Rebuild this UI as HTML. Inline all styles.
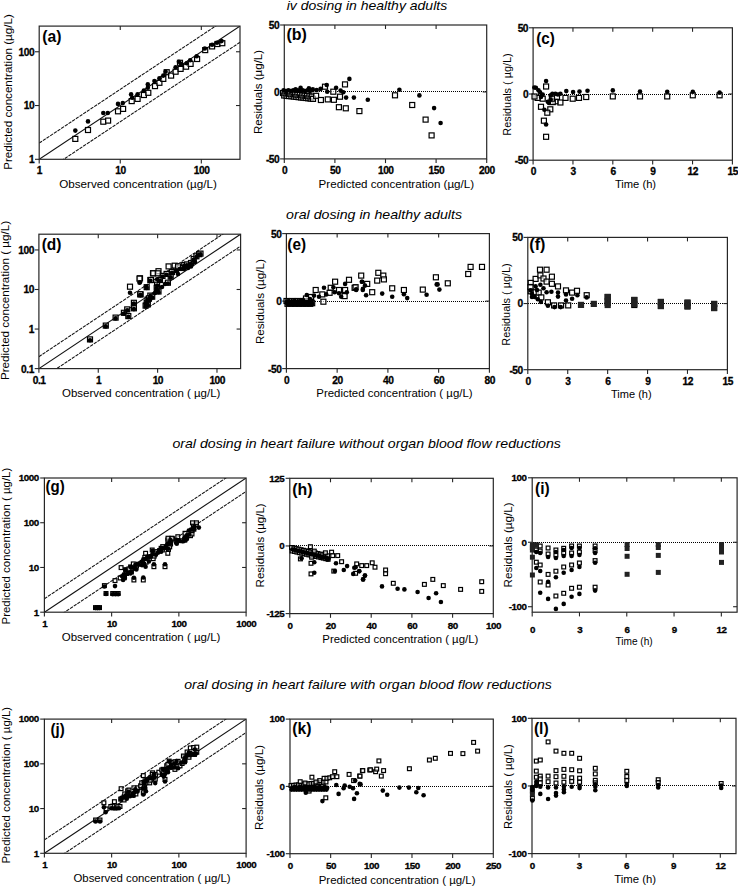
<!DOCTYPE html>
<html><head><meta charset="utf-8"><style>html,body{margin:0;padding:0;background:#fff;width:738px;height:887px;overflow:hidden}svg{display:block}</style></head>
<body><svg width="738" height="887" viewBox="0 0 738 887" font-family='"Liberation Sans", sans-serif'>
<rect width="738" height="887" fill="#fff"/>
<clipPath id="cpa"><rect x="39.2" y="26.1" width="200.8" height="133.20000000000002"/></clipPath>
<g clip-path="url(#cpa)" fill="none" stroke="#111">
<line x1="39.20" y1="159.30" x2="240.00" y2="26.10" stroke-width="1.1"/>
<line x1="39.20" y1="143.11" x2="240.00" y2="9.91" stroke-width="1.05" stroke-dasharray="3.4 1.0"/>
<line x1="39.20" y1="175.49" x2="240.00" y2="42.29" stroke-width="1.05" stroke-dasharray="3.4 1.0"/>
</g>
<rect x="39.2" y="26.1" width="200.80" height="133.20" fill="none" stroke="#262626" stroke-width="1.2"/>
<line x1="39.20" y1="159.3" x2="39.20" y2="163.50" stroke="#262626" stroke-width="1.1"/>
<text x="39.45" y="174.30" font-size="10.2" font-weight="bold" text-anchor="middle" fill="#000" letter-spacing="-0.45" stroke="#000" stroke-width="0.3">1</text>
<line x1="120.26" y1="159.3" x2="120.26" y2="163.50" stroke="#262626" stroke-width="1.1"/>
<line x1="120.26" y1="26.1" x2="120.26" y2="30.10" stroke="#262626" stroke-width="1.1"/>
<text x="120.51" y="174.30" font-size="10.2" font-weight="bold" text-anchor="middle" fill="#000" letter-spacing="-0.45" stroke="#000" stroke-width="0.3">10</text>
<line x1="201.32" y1="159.3" x2="201.32" y2="163.50" stroke="#262626" stroke-width="1.1"/>
<line x1="201.32" y1="26.1" x2="201.32" y2="30.10" stroke="#262626" stroke-width="1.1"/>
<text x="201.57" y="174.30" font-size="10.2" font-weight="bold" text-anchor="middle" fill="#000" letter-spacing="-0.45" stroke="#000" stroke-width="0.3">100</text>
<line x1="35.00" y1="159.30" x2="39.2" y2="159.30" stroke="#262626" stroke-width="1.1"/>
<text x="34.20" y="163.20" font-size="10.2" font-weight="bold" text-anchor="end" fill="#000" letter-spacing="-0.45" stroke="#000" stroke-width="0.3">1</text>
<line x1="35.00" y1="105.53" x2="39.2" y2="105.53" stroke="#262626" stroke-width="1.1"/>
<line x1="236.00" y1="105.53" x2="240.0" y2="105.53" stroke="#262626" stroke-width="1.1"/>
<text x="34.20" y="109.43" font-size="10.2" font-weight="bold" text-anchor="end" fill="#000" letter-spacing="-0.45" stroke="#000" stroke-width="0.3">10</text>
<line x1="35.00" y1="51.76" x2="39.2" y2="51.76" stroke="#262626" stroke-width="1.1"/>
<line x1="236.00" y1="51.76" x2="240.0" y2="51.76" stroke="#262626" stroke-width="1.1"/>
<text x="34.20" y="55.66" font-size="10.2" font-weight="bold" text-anchor="end" fill="#000" letter-spacing="-0.45" stroke="#000" stroke-width="0.3">100</text>
<line x1="285" y1="91.50" x2="486.7" y2="91.50" stroke="#000" stroke-width="1" stroke-dasharray="1 1"/>
<rect x="284.3" y="25.0" width="202.40" height="133.90" fill="none" stroke="#262626" stroke-width="1.2"/>
<line x1="284.30" y1="158.9" x2="284.30" y2="163.10" stroke="#262626" stroke-width="1.1"/>
<text x="284.55" y="173.90" font-size="10.2" font-weight="bold" text-anchor="middle" fill="#000" letter-spacing="-0.45" stroke="#000" stroke-width="0.3">0</text>
<line x1="334.90" y1="158.9" x2="334.90" y2="163.10" stroke="#262626" stroke-width="1.1"/>
<line x1="334.90" y1="25.0" x2="334.90" y2="29.00" stroke="#262626" stroke-width="1.1"/>
<text x="335.15" y="173.90" font-size="10.2" font-weight="bold" text-anchor="middle" fill="#000" letter-spacing="-0.45" stroke="#000" stroke-width="0.3">50</text>
<line x1="385.50" y1="158.9" x2="385.50" y2="163.10" stroke="#262626" stroke-width="1.1"/>
<line x1="385.50" y1="25.0" x2="385.50" y2="29.00" stroke="#262626" stroke-width="1.1"/>
<text x="385.75" y="173.90" font-size="10.2" font-weight="bold" text-anchor="middle" fill="#000" letter-spacing="-0.45" stroke="#000" stroke-width="0.3">100</text>
<line x1="436.10" y1="158.9" x2="436.10" y2="163.10" stroke="#262626" stroke-width="1.1"/>
<line x1="436.10" y1="25.0" x2="436.10" y2="29.00" stroke="#262626" stroke-width="1.1"/>
<text x="436.35" y="173.90" font-size="10.2" font-weight="bold" text-anchor="middle" fill="#000" letter-spacing="-0.45" stroke="#000" stroke-width="0.3">150</text>
<line x1="486.70" y1="158.9" x2="486.70" y2="163.10" stroke="#262626" stroke-width="1.1"/>
<text x="486.95" y="173.90" font-size="10.2" font-weight="bold" text-anchor="middle" fill="#000" letter-spacing="-0.45" stroke="#000" stroke-width="0.3">200</text>
<line x1="280.10" y1="158.90" x2="284.3" y2="158.90" stroke="#262626" stroke-width="1.1"/>
<text x="279.30" y="162.80" font-size="10.2" font-weight="bold" text-anchor="end" fill="#000" letter-spacing="-0.45" stroke="#000" stroke-width="0.3">-50</text>
<line x1="280.10" y1="91.95" x2="284.3" y2="91.95" stroke="#262626" stroke-width="1.1"/>
<line x1="482.70" y1="91.95" x2="486.7" y2="91.95" stroke="#262626" stroke-width="1.1"/>
<text x="279.30" y="95.85" font-size="10.2" font-weight="bold" text-anchor="end" fill="#000" letter-spacing="-0.45" stroke="#000" stroke-width="0.3">0</text>
<line x1="280.10" y1="25.00" x2="284.3" y2="25.00" stroke="#262626" stroke-width="1.1"/>
<text x="279.30" y="28.90" font-size="10.2" font-weight="bold" text-anchor="end" fill="#000" letter-spacing="-0.45" stroke="#000" stroke-width="0.3">50</text>
<line x1="534" y1="94.50" x2="732.4" y2="94.50" stroke="#000" stroke-width="1" stroke-dasharray="1 1"/>
<rect x="533.1" y="27.8" width="199.30" height="132.40" fill="none" stroke="#262626" stroke-width="1.2"/>
<line x1="533.10" y1="160.2" x2="533.10" y2="164.40" stroke="#262626" stroke-width="1.1"/>
<text x="533.35" y="175.20" font-size="10.2" font-weight="bold" text-anchor="middle" fill="#000" letter-spacing="-0.45" stroke="#000" stroke-width="0.3">0</text>
<line x1="572.96" y1="160.2" x2="572.96" y2="164.40" stroke="#262626" stroke-width="1.1"/>
<line x1="572.96" y1="27.8" x2="572.96" y2="31.80" stroke="#262626" stroke-width="1.1"/>
<text x="573.21" y="175.20" font-size="10.2" font-weight="bold" text-anchor="middle" fill="#000" letter-spacing="-0.45" stroke="#000" stroke-width="0.3">3</text>
<line x1="612.82" y1="160.2" x2="612.82" y2="164.40" stroke="#262626" stroke-width="1.1"/>
<line x1="612.82" y1="27.8" x2="612.82" y2="31.80" stroke="#262626" stroke-width="1.1"/>
<text x="613.07" y="175.20" font-size="10.2" font-weight="bold" text-anchor="middle" fill="#000" letter-spacing="-0.45" stroke="#000" stroke-width="0.3">6</text>
<line x1="652.68" y1="160.2" x2="652.68" y2="164.40" stroke="#262626" stroke-width="1.1"/>
<line x1="652.68" y1="27.8" x2="652.68" y2="31.80" stroke="#262626" stroke-width="1.1"/>
<text x="652.93" y="175.20" font-size="10.2" font-weight="bold" text-anchor="middle" fill="#000" letter-spacing="-0.45" stroke="#000" stroke-width="0.3">9</text>
<line x1="692.54" y1="160.2" x2="692.54" y2="164.40" stroke="#262626" stroke-width="1.1"/>
<line x1="692.54" y1="27.8" x2="692.54" y2="31.80" stroke="#262626" stroke-width="1.1"/>
<text x="692.79" y="175.20" font-size="10.2" font-weight="bold" text-anchor="middle" fill="#000" letter-spacing="-0.45" stroke="#000" stroke-width="0.3">12</text>
<line x1="732.40" y1="160.2" x2="732.40" y2="164.40" stroke="#262626" stroke-width="1.1"/>
<text x="732.65" y="175.20" font-size="10.2" font-weight="bold" text-anchor="middle" fill="#000" letter-spacing="-0.45" stroke="#000" stroke-width="0.3">15</text>
<line x1="528.90" y1="160.20" x2="533.1" y2="160.20" stroke="#262626" stroke-width="1.1"/>
<text x="528.10" y="164.10" font-size="10.2" font-weight="bold" text-anchor="end" fill="#000" letter-spacing="-0.45" stroke="#000" stroke-width="0.3">-50</text>
<line x1="528.90" y1="94.00" x2="533.1" y2="94.00" stroke="#262626" stroke-width="1.1"/>
<line x1="728.40" y1="94.00" x2="732.4" y2="94.00" stroke="#262626" stroke-width="1.1"/>
<text x="528.10" y="97.90" font-size="10.2" font-weight="bold" text-anchor="end" fill="#000" letter-spacing="-0.45" stroke="#000" stroke-width="0.3">0</text>
<line x1="528.90" y1="27.80" x2="533.1" y2="27.80" stroke="#262626" stroke-width="1.1"/>
<text x="528.10" y="31.70" font-size="10.2" font-weight="bold" text-anchor="end" fill="#000" letter-spacing="-0.45" stroke="#000" stroke-width="0.3">50</text>
<clipPath id="cpd"><rect x="38.9" y="234.2" width="201.7" height="134.40000000000003"/></clipPath>
<g clip-path="url(#cpd)" fill="none" stroke="#111">
<line x1="38.90" y1="368.60" x2="240.60" y2="234.20" stroke-width="1.1"/>
<line x1="38.90" y1="356.69" x2="240.60" y2="222.29" stroke-width="1.05" stroke-dasharray="3.4 1.0"/>
<line x1="38.90" y1="380.51" x2="240.60" y2="246.11" stroke-width="1.05" stroke-dasharray="3.4 1.0"/>
</g>
<rect x="38.9" y="234.2" width="201.70" height="134.40" fill="none" stroke="#262626" stroke-width="1.2"/>
<line x1="38.90" y1="368.6" x2="38.90" y2="372.80" stroke="#262626" stroke-width="1.1"/>
<text x="39.15" y="383.60" font-size="10.2" font-weight="bold" text-anchor="middle" fill="#000" letter-spacing="-0.45" stroke="#000" stroke-width="0.3">0.1</text>
<line x1="98.26" y1="368.6" x2="98.26" y2="372.80" stroke="#262626" stroke-width="1.1"/>
<line x1="98.26" y1="234.2" x2="98.26" y2="238.20" stroke="#262626" stroke-width="1.1"/>
<text x="98.51" y="383.60" font-size="10.2" font-weight="bold" text-anchor="middle" fill="#000" letter-spacing="-0.45" stroke="#000" stroke-width="0.3">1</text>
<line x1="157.62" y1="368.6" x2="157.62" y2="372.80" stroke="#262626" stroke-width="1.1"/>
<line x1="157.62" y1="234.2" x2="157.62" y2="238.20" stroke="#262626" stroke-width="1.1"/>
<text x="157.87" y="383.60" font-size="10.2" font-weight="bold" text-anchor="middle" fill="#000" letter-spacing="-0.45" stroke="#000" stroke-width="0.3">10</text>
<line x1="216.98" y1="368.6" x2="216.98" y2="372.80" stroke="#262626" stroke-width="1.1"/>
<line x1="216.98" y1="234.2" x2="216.98" y2="238.20" stroke="#262626" stroke-width="1.1"/>
<text x="217.23" y="383.60" font-size="10.2" font-weight="bold" text-anchor="middle" fill="#000" letter-spacing="-0.45" stroke="#000" stroke-width="0.3">100</text>
<line x1="34.70" y1="368.60" x2="38.9" y2="368.60" stroke="#262626" stroke-width="1.1"/>
<text x="33.90" y="372.50" font-size="10.2" font-weight="bold" text-anchor="end" fill="#000" letter-spacing="-0.45" stroke="#000" stroke-width="0.3">0.1</text>
<line x1="34.70" y1="329.05" x2="38.9" y2="329.05" stroke="#262626" stroke-width="1.1"/>
<line x1="236.60" y1="329.05" x2="240.6" y2="329.05" stroke="#262626" stroke-width="1.1"/>
<text x="33.90" y="332.95" font-size="10.2" font-weight="bold" text-anchor="end" fill="#000" letter-spacing="-0.45" stroke="#000" stroke-width="0.3">1</text>
<line x1="34.70" y1="289.49" x2="38.9" y2="289.49" stroke="#262626" stroke-width="1.1"/>
<line x1="236.60" y1="289.49" x2="240.6" y2="289.49" stroke="#262626" stroke-width="1.1"/>
<text x="33.90" y="293.39" font-size="10.2" font-weight="bold" text-anchor="end" fill="#000" letter-spacing="-0.45" stroke="#000" stroke-width="0.3">10</text>
<line x1="34.70" y1="249.94" x2="38.9" y2="249.94" stroke="#262626" stroke-width="1.1"/>
<line x1="236.60" y1="249.94" x2="240.6" y2="249.94" stroke="#262626" stroke-width="1.1"/>
<text x="33.90" y="253.84" font-size="10.2" font-weight="bold" text-anchor="end" fill="#000" letter-spacing="-0.45" stroke="#000" stroke-width="0.3">100</text>
<line x1="287" y1="301.50" x2="489.4" y2="301.50" stroke="#000" stroke-width="1" stroke-dasharray="1 1"/>
<rect x="286.4" y="233.6" width="203.00" height="135.00" fill="none" stroke="#262626" stroke-width="1.2"/>
<line x1="286.40" y1="368.6" x2="286.40" y2="372.80" stroke="#262626" stroke-width="1.1"/>
<text x="286.65" y="383.60" font-size="10.2" font-weight="bold" text-anchor="middle" fill="#000" letter-spacing="-0.45" stroke="#000" stroke-width="0.3">0</text>
<line x1="337.15" y1="368.6" x2="337.15" y2="372.80" stroke="#262626" stroke-width="1.1"/>
<line x1="337.15" y1="233.6" x2="337.15" y2="237.60" stroke="#262626" stroke-width="1.1"/>
<text x="337.40" y="383.60" font-size="10.2" font-weight="bold" text-anchor="middle" fill="#000" letter-spacing="-0.45" stroke="#000" stroke-width="0.3">20</text>
<line x1="387.90" y1="368.6" x2="387.90" y2="372.80" stroke="#262626" stroke-width="1.1"/>
<line x1="387.90" y1="233.6" x2="387.90" y2="237.60" stroke="#262626" stroke-width="1.1"/>
<text x="388.15" y="383.60" font-size="10.2" font-weight="bold" text-anchor="middle" fill="#000" letter-spacing="-0.45" stroke="#000" stroke-width="0.3">40</text>
<line x1="438.65" y1="368.6" x2="438.65" y2="372.80" stroke="#262626" stroke-width="1.1"/>
<line x1="438.65" y1="233.6" x2="438.65" y2="237.60" stroke="#262626" stroke-width="1.1"/>
<text x="438.90" y="383.60" font-size="10.2" font-weight="bold" text-anchor="middle" fill="#000" letter-spacing="-0.45" stroke="#000" stroke-width="0.3">60</text>
<line x1="489.40" y1="368.6" x2="489.40" y2="372.80" stroke="#262626" stroke-width="1.1"/>
<text x="489.65" y="383.60" font-size="10.2" font-weight="bold" text-anchor="middle" fill="#000" letter-spacing="-0.45" stroke="#000" stroke-width="0.3">80</text>
<line x1="282.20" y1="368.60" x2="286.4" y2="368.60" stroke="#262626" stroke-width="1.1"/>
<text x="281.40" y="372.50" font-size="10.2" font-weight="bold" text-anchor="end" fill="#000" letter-spacing="-0.45" stroke="#000" stroke-width="0.3">-50</text>
<line x1="282.20" y1="301.10" x2="286.4" y2="301.10" stroke="#262626" stroke-width="1.1"/>
<line x1="485.40" y1="301.10" x2="489.4" y2="301.10" stroke="#262626" stroke-width="1.1"/>
<text x="281.40" y="305.00" font-size="10.2" font-weight="bold" text-anchor="end" fill="#000" letter-spacing="-0.45" stroke="#000" stroke-width="0.3">0</text>
<line x1="282.20" y1="233.60" x2="286.4" y2="233.60" stroke="#262626" stroke-width="1.1"/>
<text x="281.40" y="237.50" font-size="10.2" font-weight="bold" text-anchor="end" fill="#000" letter-spacing="-0.45" stroke="#000" stroke-width="0.3">50</text>
<line x1="528" y1="303.50" x2="727.4" y2="303.50" stroke="#000" stroke-width="1" stroke-dasharray="1 1"/>
<rect x="527.8" y="237.4" width="199.60" height="132.30" fill="none" stroke="#262626" stroke-width="1.2"/>
<line x1="527.80" y1="369.7" x2="527.80" y2="373.90" stroke="#262626" stroke-width="1.1"/>
<text x="528.05" y="384.70" font-size="10.2" font-weight="bold" text-anchor="middle" fill="#000" letter-spacing="-0.45" stroke="#000" stroke-width="0.3">0</text>
<line x1="567.72" y1="369.7" x2="567.72" y2="373.90" stroke="#262626" stroke-width="1.1"/>
<line x1="567.72" y1="237.4" x2="567.72" y2="241.40" stroke="#262626" stroke-width="1.1"/>
<text x="567.97" y="384.70" font-size="10.2" font-weight="bold" text-anchor="middle" fill="#000" letter-spacing="-0.45" stroke="#000" stroke-width="0.3">3</text>
<line x1="607.64" y1="369.7" x2="607.64" y2="373.90" stroke="#262626" stroke-width="1.1"/>
<line x1="607.64" y1="237.4" x2="607.64" y2="241.40" stroke="#262626" stroke-width="1.1"/>
<text x="607.89" y="384.70" font-size="10.2" font-weight="bold" text-anchor="middle" fill="#000" letter-spacing="-0.45" stroke="#000" stroke-width="0.3">6</text>
<line x1="647.56" y1="369.7" x2="647.56" y2="373.90" stroke="#262626" stroke-width="1.1"/>
<line x1="647.56" y1="237.4" x2="647.56" y2="241.40" stroke="#262626" stroke-width="1.1"/>
<text x="647.81" y="384.70" font-size="10.2" font-weight="bold" text-anchor="middle" fill="#000" letter-spacing="-0.45" stroke="#000" stroke-width="0.3">9</text>
<line x1="687.48" y1="369.7" x2="687.48" y2="373.90" stroke="#262626" stroke-width="1.1"/>
<line x1="687.48" y1="237.4" x2="687.48" y2="241.40" stroke="#262626" stroke-width="1.1"/>
<text x="687.73" y="384.70" font-size="10.2" font-weight="bold" text-anchor="middle" fill="#000" letter-spacing="-0.45" stroke="#000" stroke-width="0.3">12</text>
<line x1="727.40" y1="369.7" x2="727.40" y2="373.90" stroke="#262626" stroke-width="1.1"/>
<text x="727.65" y="384.70" font-size="10.2" font-weight="bold" text-anchor="middle" fill="#000" letter-spacing="-0.45" stroke="#000" stroke-width="0.3">15</text>
<line x1="523.60" y1="369.70" x2="527.8" y2="369.70" stroke="#262626" stroke-width="1.1"/>
<text x="522.80" y="373.60" font-size="10.2" font-weight="bold" text-anchor="end" fill="#000" letter-spacing="-0.45" stroke="#000" stroke-width="0.3">-50</text>
<line x1="523.60" y1="303.55" x2="527.8" y2="303.55" stroke="#262626" stroke-width="1.1"/>
<line x1="723.40" y1="303.55" x2="727.4" y2="303.55" stroke="#262626" stroke-width="1.1"/>
<text x="522.80" y="307.45" font-size="10.2" font-weight="bold" text-anchor="end" fill="#000" letter-spacing="-0.45" stroke="#000" stroke-width="0.3">0</text>
<line x1="523.60" y1="237.40" x2="527.8" y2="237.40" stroke="#262626" stroke-width="1.1"/>
<text x="522.80" y="241.30" font-size="10.2" font-weight="bold" text-anchor="end" fill="#000" letter-spacing="-0.45" stroke="#000" stroke-width="0.3">50</text>
<clipPath id="cpg"><rect x="44.4" y="478.0" width="201.7" height="134.20000000000005"/></clipPath>
<g clip-path="url(#cpg)" fill="none" stroke="#111">
<line x1="44.40" y1="612.20" x2="246.10" y2="478.00" stroke-width="1.1"/>
<line x1="44.40" y1="598.73" x2="246.10" y2="464.53" stroke-width="1.05" stroke-dasharray="3.4 1.0"/>
<line x1="44.40" y1="625.67" x2="246.10" y2="491.47" stroke-width="1.05" stroke-dasharray="3.4 1.0"/>
</g>
<rect x="44.4" y="478.0" width="201.70" height="134.20" fill="none" stroke="#262626" stroke-width="1.2"/>
<line x1="44.40" y1="612.2" x2="44.40" y2="616.40" stroke="#262626" stroke-width="1.1"/>
<text x="44.65" y="627.20" font-size="9.8" font-weight="bold" text-anchor="middle" fill="#000" letter-spacing="-0.45" stroke="#000" stroke-width="0.3">1</text>
<line x1="111.63" y1="612.2" x2="111.63" y2="616.40" stroke="#262626" stroke-width="1.1"/>
<line x1="111.63" y1="478.0" x2="111.63" y2="482.00" stroke="#262626" stroke-width="1.1"/>
<text x="111.88" y="627.20" font-size="9.8" font-weight="bold" text-anchor="middle" fill="#000" letter-spacing="-0.45" stroke="#000" stroke-width="0.3">10</text>
<line x1="178.87" y1="612.2" x2="178.87" y2="616.40" stroke="#262626" stroke-width="1.1"/>
<line x1="178.87" y1="478.0" x2="178.87" y2="482.00" stroke="#262626" stroke-width="1.1"/>
<text x="179.12" y="627.20" font-size="9.8" font-weight="bold" text-anchor="middle" fill="#000" letter-spacing="-0.45" stroke="#000" stroke-width="0.3">100</text>
<line x1="246.10" y1="612.2" x2="246.10" y2="616.40" stroke="#262626" stroke-width="1.1"/>
<text x="246.35" y="627.20" font-size="9.8" font-weight="bold" text-anchor="middle" fill="#000" letter-spacing="-0.45" stroke="#000" stroke-width="0.3">1000</text>
<line x1="40.20" y1="612.20" x2="44.4" y2="612.20" stroke="#262626" stroke-width="1.1"/>
<text x="38.80" y="615.50" font-size="9.8" font-weight="bold" text-anchor="end" fill="#000" letter-spacing="-0.45" stroke="#000" stroke-width="0.3">1</text>
<line x1="40.20" y1="567.47" x2="44.4" y2="567.47" stroke="#262626" stroke-width="1.1"/>
<line x1="242.10" y1="567.47" x2="246.1" y2="567.47" stroke="#262626" stroke-width="1.1"/>
<text x="38.80" y="570.77" font-size="9.8" font-weight="bold" text-anchor="end" fill="#000" letter-spacing="-0.45" stroke="#000" stroke-width="0.3">10</text>
<line x1="40.20" y1="522.73" x2="44.4" y2="522.73" stroke="#262626" stroke-width="1.1"/>
<line x1="242.10" y1="522.73" x2="246.1" y2="522.73" stroke="#262626" stroke-width="1.1"/>
<text x="38.80" y="526.03" font-size="9.8" font-weight="bold" text-anchor="end" fill="#000" letter-spacing="-0.45" stroke="#000" stroke-width="0.3">100</text>
<line x1="40.20" y1="478.00" x2="44.4" y2="478.00" stroke="#262626" stroke-width="1.1"/>
<text x="38.80" y="481.30" font-size="9.8" font-weight="bold" text-anchor="end" fill="#000" letter-spacing="-0.45" stroke="#000" stroke-width="0.3">1000</text>
<line x1="290" y1="545.50" x2="493.3" y2="545.50" stroke="#000" stroke-width="1" stroke-dasharray="1 1"/>
<rect x="289.8" y="478.3" width="203.50" height="135.30" fill="none" stroke="#262626" stroke-width="1.2"/>
<line x1="289.80" y1="613.6" x2="289.80" y2="617.80" stroke="#262626" stroke-width="1.1"/>
<text x="290.05" y="628.60" font-size="9.8" font-weight="bold" text-anchor="middle" fill="#000" letter-spacing="-0.45" stroke="#000" stroke-width="0.3">0</text>
<line x1="330.50" y1="613.6" x2="330.50" y2="617.80" stroke="#262626" stroke-width="1.1"/>
<line x1="330.50" y1="478.3" x2="330.50" y2="482.30" stroke="#262626" stroke-width="1.1"/>
<text x="330.75" y="628.60" font-size="9.8" font-weight="bold" text-anchor="middle" fill="#000" letter-spacing="-0.45" stroke="#000" stroke-width="0.3">20</text>
<line x1="371.20" y1="613.6" x2="371.20" y2="617.80" stroke="#262626" stroke-width="1.1"/>
<line x1="371.20" y1="478.3" x2="371.20" y2="482.30" stroke="#262626" stroke-width="1.1"/>
<text x="371.45" y="628.60" font-size="9.8" font-weight="bold" text-anchor="middle" fill="#000" letter-spacing="-0.45" stroke="#000" stroke-width="0.3">40</text>
<line x1="411.90" y1="613.6" x2="411.90" y2="617.80" stroke="#262626" stroke-width="1.1"/>
<line x1="411.90" y1="478.3" x2="411.90" y2="482.30" stroke="#262626" stroke-width="1.1"/>
<text x="412.15" y="628.60" font-size="9.8" font-weight="bold" text-anchor="middle" fill="#000" letter-spacing="-0.45" stroke="#000" stroke-width="0.3">60</text>
<line x1="452.60" y1="613.6" x2="452.60" y2="617.80" stroke="#262626" stroke-width="1.1"/>
<line x1="452.60" y1="478.3" x2="452.60" y2="482.30" stroke="#262626" stroke-width="1.1"/>
<text x="452.85" y="628.60" font-size="9.8" font-weight="bold" text-anchor="middle" fill="#000" letter-spacing="-0.45" stroke="#000" stroke-width="0.3">80</text>
<line x1="493.30" y1="613.6" x2="493.30" y2="617.80" stroke="#262626" stroke-width="1.1"/>
<text x="493.55" y="628.60" font-size="9.8" font-weight="bold" text-anchor="middle" fill="#000" letter-spacing="-0.45" stroke="#000" stroke-width="0.3">100</text>
<line x1="285.60" y1="613.60" x2="289.8" y2="613.60" stroke="#262626" stroke-width="1.1"/>
<text x="284.20" y="616.90" font-size="9.8" font-weight="bold" text-anchor="end" fill="#000" letter-spacing="-0.45" stroke="#000" stroke-width="0.3">-125</text>
<line x1="285.60" y1="545.95" x2="289.8" y2="545.95" stroke="#262626" stroke-width="1.1"/>
<line x1="489.30" y1="545.95" x2="493.3" y2="545.95" stroke="#262626" stroke-width="1.1"/>
<text x="284.20" y="549.25" font-size="9.8" font-weight="bold" text-anchor="end" fill="#000" letter-spacing="-0.45" stroke="#000" stroke-width="0.3">0</text>
<line x1="285.60" y1="478.30" x2="289.8" y2="478.30" stroke="#262626" stroke-width="1.1"/>
<text x="284.20" y="481.60" font-size="9.8" font-weight="bold" text-anchor="end" fill="#000" letter-spacing="-0.45" stroke="#000" stroke-width="0.3">125</text>
<line x1="533" y1="542.50" x2="737.1" y2="542.50" stroke="#000" stroke-width="1" stroke-dasharray="1 1"/>
<rect x="532.2" y="477.8" width="204.90" height="134.40" fill="none" stroke="#262626" stroke-width="1.2"/>
<line x1="532.20" y1="612.2" x2="532.20" y2="616.40" stroke="#262626" stroke-width="1.1"/>
<text x="532.45" y="633.30" font-size="9.8" font-weight="bold" text-anchor="middle" fill="#000" letter-spacing="-0.45" stroke="#000" stroke-width="0.3">0</text>
<line x1="579.48" y1="612.2" x2="579.48" y2="616.40" stroke="#262626" stroke-width="1.1"/>
<line x1="579.48" y1="477.8" x2="579.48" y2="481.80" stroke="#262626" stroke-width="1.1"/>
<text x="579.73" y="633.30" font-size="9.8" font-weight="bold" text-anchor="middle" fill="#000" letter-spacing="-0.45" stroke="#000" stroke-width="0.3">3</text>
<line x1="626.77" y1="612.2" x2="626.77" y2="616.40" stroke="#262626" stroke-width="1.1"/>
<line x1="626.77" y1="477.8" x2="626.77" y2="481.80" stroke="#262626" stroke-width="1.1"/>
<text x="627.02" y="633.30" font-size="9.8" font-weight="bold" text-anchor="middle" fill="#000" letter-spacing="-0.45" stroke="#000" stroke-width="0.3">6</text>
<line x1="674.05" y1="612.2" x2="674.05" y2="616.40" stroke="#262626" stroke-width="1.1"/>
<line x1="674.05" y1="477.8" x2="674.05" y2="481.80" stroke="#262626" stroke-width="1.1"/>
<text x="674.30" y="633.30" font-size="9.8" font-weight="bold" text-anchor="middle" fill="#000" letter-spacing="-0.45" stroke="#000" stroke-width="0.3">9</text>
<line x1="721.34" y1="612.2" x2="721.34" y2="616.40" stroke="#262626" stroke-width="1.1"/>
<line x1="721.34" y1="477.8" x2="721.34" y2="481.80" stroke="#262626" stroke-width="1.1"/>
<text x="721.59" y="633.30" font-size="9.8" font-weight="bold" text-anchor="middle" fill="#000" letter-spacing="-0.45" stroke="#000" stroke-width="0.3">12</text>
<line x1="528.00" y1="606.72" x2="532.2" y2="606.72" stroke="#262626" stroke-width="1.1"/>
<line x1="733.10" y1="606.72" x2="737.1" y2="606.72" stroke="#262626" stroke-width="1.1"/>
<text x="526.60" y="610.02" font-size="9.8" font-weight="bold" text-anchor="end" fill="#000" letter-spacing="-0.45" stroke="#000" stroke-width="0.3">-100</text>
<line x1="528.00" y1="542.26" x2="532.2" y2="542.26" stroke="#262626" stroke-width="1.1"/>
<line x1="733.10" y1="542.26" x2="737.1" y2="542.26" stroke="#262626" stroke-width="1.1"/>
<text x="526.60" y="545.56" font-size="9.8" font-weight="bold" text-anchor="end" fill="#000" letter-spacing="-0.45" stroke="#000" stroke-width="0.3">0</text>
<line x1="528.00" y1="477.80" x2="532.2" y2="477.80" stroke="#262626" stroke-width="1.1"/>
<text x="526.60" y="481.10" font-size="9.8" font-weight="bold" text-anchor="end" fill="#000" letter-spacing="-0.45" stroke="#000" stroke-width="0.3">100</text>
<clipPath id="cpj"><rect x="44.4" y="719.1" width="201.7" height="134.19999999999993"/></clipPath>
<g clip-path="url(#cpj)" fill="none" stroke="#111">
<line x1="44.40" y1="853.30" x2="246.10" y2="719.10" stroke-width="1.1"/>
<line x1="44.40" y1="839.83" x2="246.10" y2="705.63" stroke-width="1.05" stroke-dasharray="3.4 1.0"/>
<line x1="44.40" y1="866.77" x2="246.10" y2="732.57" stroke-width="1.05" stroke-dasharray="3.4 1.0"/>
</g>
<rect x="44.4" y="719.1" width="201.70" height="134.20" fill="none" stroke="#262626" stroke-width="1.2"/>
<line x1="44.40" y1="853.3" x2="44.40" y2="857.50" stroke="#262626" stroke-width="1.1"/>
<text x="44.65" y="868.30" font-size="9.8" font-weight="bold" text-anchor="middle" fill="#000" letter-spacing="-0.45" stroke="#000" stroke-width="0.3">1</text>
<line x1="111.63" y1="853.3" x2="111.63" y2="857.50" stroke="#262626" stroke-width="1.1"/>
<line x1="111.63" y1="719.1" x2="111.63" y2="723.10" stroke="#262626" stroke-width="1.1"/>
<text x="111.88" y="868.30" font-size="9.8" font-weight="bold" text-anchor="middle" fill="#000" letter-spacing="-0.45" stroke="#000" stroke-width="0.3">10</text>
<line x1="178.87" y1="853.3" x2="178.87" y2="857.50" stroke="#262626" stroke-width="1.1"/>
<line x1="178.87" y1="719.1" x2="178.87" y2="723.10" stroke="#262626" stroke-width="1.1"/>
<text x="179.12" y="868.30" font-size="9.8" font-weight="bold" text-anchor="middle" fill="#000" letter-spacing="-0.45" stroke="#000" stroke-width="0.3">100</text>
<line x1="246.10" y1="853.3" x2="246.10" y2="857.50" stroke="#262626" stroke-width="1.1"/>
<text x="246.35" y="868.30" font-size="9.8" font-weight="bold" text-anchor="middle" fill="#000" letter-spacing="-0.45" stroke="#000" stroke-width="0.3">1000</text>
<line x1="40.20" y1="853.30" x2="44.4" y2="853.30" stroke="#262626" stroke-width="1.1"/>
<text x="38.80" y="856.60" font-size="9.8" font-weight="bold" text-anchor="end" fill="#000" letter-spacing="-0.45" stroke="#000" stroke-width="0.3">1</text>
<line x1="40.20" y1="808.57" x2="44.4" y2="808.57" stroke="#262626" stroke-width="1.1"/>
<line x1="242.10" y1="808.57" x2="246.1" y2="808.57" stroke="#262626" stroke-width="1.1"/>
<text x="38.80" y="811.87" font-size="9.8" font-weight="bold" text-anchor="end" fill="#000" letter-spacing="-0.45" stroke="#000" stroke-width="0.3">10</text>
<line x1="40.20" y1="763.83" x2="44.4" y2="763.83" stroke="#262626" stroke-width="1.1"/>
<line x1="242.10" y1="763.83" x2="246.1" y2="763.83" stroke="#262626" stroke-width="1.1"/>
<text x="38.80" y="767.13" font-size="9.8" font-weight="bold" text-anchor="end" fill="#000" letter-spacing="-0.45" stroke="#000" stroke-width="0.3">100</text>
<line x1="40.20" y1="719.10" x2="44.4" y2="719.10" stroke="#262626" stroke-width="1.1"/>
<text x="38.80" y="722.40" font-size="9.8" font-weight="bold" text-anchor="end" fill="#000" letter-spacing="-0.45" stroke="#000" stroke-width="0.3">1000</text>
<line x1="290" y1="786.50" x2="493.3" y2="786.50" stroke="#000" stroke-width="1" stroke-dasharray="1 1"/>
<rect x="290.0" y="719.1" width="203.30" height="134.60" fill="none" stroke="#262626" stroke-width="1.2"/>
<line x1="290.00" y1="853.7" x2="290.00" y2="857.90" stroke="#262626" stroke-width="1.1"/>
<text x="290.25" y="868.70" font-size="9.8" font-weight="bold" text-anchor="middle" fill="#000" letter-spacing="-0.45" stroke="#000" stroke-width="0.3">0</text>
<line x1="330.66" y1="853.7" x2="330.66" y2="857.90" stroke="#262626" stroke-width="1.1"/>
<line x1="330.66" y1="719.1" x2="330.66" y2="723.10" stroke="#262626" stroke-width="1.1"/>
<text x="330.91" y="868.70" font-size="9.8" font-weight="bold" text-anchor="middle" fill="#000" letter-spacing="-0.45" stroke="#000" stroke-width="0.3">50</text>
<line x1="371.32" y1="853.7" x2="371.32" y2="857.90" stroke="#262626" stroke-width="1.1"/>
<line x1="371.32" y1="719.1" x2="371.32" y2="723.10" stroke="#262626" stroke-width="1.1"/>
<text x="371.57" y="868.70" font-size="9.8" font-weight="bold" text-anchor="middle" fill="#000" letter-spacing="-0.45" stroke="#000" stroke-width="0.3">100</text>
<line x1="411.98" y1="853.7" x2="411.98" y2="857.90" stroke="#262626" stroke-width="1.1"/>
<line x1="411.98" y1="719.1" x2="411.98" y2="723.10" stroke="#262626" stroke-width="1.1"/>
<text x="412.23" y="868.70" font-size="9.8" font-weight="bold" text-anchor="middle" fill="#000" letter-spacing="-0.45" stroke="#000" stroke-width="0.3">150</text>
<line x1="452.64" y1="853.7" x2="452.64" y2="857.90" stroke="#262626" stroke-width="1.1"/>
<line x1="452.64" y1="719.1" x2="452.64" y2="723.10" stroke="#262626" stroke-width="1.1"/>
<text x="452.89" y="868.70" font-size="9.8" font-weight="bold" text-anchor="middle" fill="#000" letter-spacing="-0.45" stroke="#000" stroke-width="0.3">200</text>
<line x1="493.30" y1="853.7" x2="493.30" y2="857.90" stroke="#262626" stroke-width="1.1"/>
<text x="493.55" y="868.70" font-size="9.8" font-weight="bold" text-anchor="middle" fill="#000" letter-spacing="-0.45" stroke="#000" stroke-width="0.3">250</text>
<line x1="285.80" y1="853.70" x2="290.0" y2="853.70" stroke="#262626" stroke-width="1.1"/>
<text x="284.40" y="857.00" font-size="9.8" font-weight="bold" text-anchor="end" fill="#000" letter-spacing="-0.45" stroke="#000" stroke-width="0.3">-100</text>
<line x1="285.80" y1="786.40" x2="290.0" y2="786.40" stroke="#262626" stroke-width="1.1"/>
<line x1="489.30" y1="786.40" x2="493.3" y2="786.40" stroke="#262626" stroke-width="1.1"/>
<text x="284.40" y="789.70" font-size="9.8" font-weight="bold" text-anchor="end" fill="#000" letter-spacing="-0.45" stroke="#000" stroke-width="0.3">0</text>
<line x1="285.80" y1="719.10" x2="290.0" y2="719.10" stroke="#262626" stroke-width="1.1"/>
<text x="284.40" y="722.40" font-size="9.8" font-weight="bold" text-anchor="end" fill="#000" letter-spacing="-0.45" stroke="#000" stroke-width="0.3">100</text>
<line x1="532" y1="785.50" x2="736.0" y2="785.50" stroke="#000" stroke-width="1" stroke-dasharray="1 1"/>
<rect x="532.0" y="718.3" width="204.00" height="135.30" fill="none" stroke="#262626" stroke-width="1.2"/>
<line x1="532.00" y1="853.6" x2="532.00" y2="857.80" stroke="#262626" stroke-width="1.1"/>
<text x="532.25" y="868.60" font-size="9.8" font-weight="bold" text-anchor="middle" fill="#000" letter-spacing="-0.45" stroke="#000" stroke-width="0.3">0</text>
<line x1="579.08" y1="853.6" x2="579.08" y2="857.80" stroke="#262626" stroke-width="1.1"/>
<line x1="579.08" y1="718.3" x2="579.08" y2="722.30" stroke="#262626" stroke-width="1.1"/>
<text x="579.33" y="868.60" font-size="9.8" font-weight="bold" text-anchor="middle" fill="#000" letter-spacing="-0.45" stroke="#000" stroke-width="0.3">3</text>
<line x1="626.15" y1="853.6" x2="626.15" y2="857.80" stroke="#262626" stroke-width="1.1"/>
<line x1="626.15" y1="718.3" x2="626.15" y2="722.30" stroke="#262626" stroke-width="1.1"/>
<text x="626.40" y="868.60" font-size="9.8" font-weight="bold" text-anchor="middle" fill="#000" letter-spacing="-0.45" stroke="#000" stroke-width="0.3">6</text>
<line x1="673.23" y1="853.6" x2="673.23" y2="857.80" stroke="#262626" stroke-width="1.1"/>
<line x1="673.23" y1="718.3" x2="673.23" y2="722.30" stroke="#262626" stroke-width="1.1"/>
<text x="673.48" y="868.60" font-size="9.8" font-weight="bold" text-anchor="middle" fill="#000" letter-spacing="-0.45" stroke="#000" stroke-width="0.3">9</text>
<line x1="720.31" y1="853.6" x2="720.31" y2="857.80" stroke="#262626" stroke-width="1.1"/>
<line x1="720.31" y1="718.3" x2="720.31" y2="722.30" stroke="#262626" stroke-width="1.1"/>
<text x="720.56" y="868.60" font-size="9.8" font-weight="bold" text-anchor="middle" fill="#000" letter-spacing="-0.45" stroke="#000" stroke-width="0.3">12</text>
<line x1="527.80" y1="853.60" x2="532.0" y2="853.60" stroke="#262626" stroke-width="1.1"/>
<text x="526.40" y="856.90" font-size="9.8" font-weight="bold" text-anchor="end" fill="#000" letter-spacing="-0.45" stroke="#000" stroke-width="0.3">-100</text>
<line x1="527.80" y1="785.95" x2="532.0" y2="785.95" stroke="#262626" stroke-width="1.1"/>
<line x1="732.00" y1="785.95" x2="736.0" y2="785.95" stroke="#262626" stroke-width="1.1"/>
<text x="526.40" y="789.25" font-size="9.8" font-weight="bold" text-anchor="end" fill="#000" letter-spacing="-0.45" stroke="#000" stroke-width="0.3">0</text>
<line x1="527.80" y1="718.30" x2="532.0" y2="718.30" stroke="#262626" stroke-width="1.1"/>
<text x="526.40" y="721.60" font-size="9.8" font-weight="bold" text-anchor="end" fill="#000" letter-spacing="-0.45" stroke="#000" stroke-width="0.3">100</text>
<rect x="72.8" y="136.4" width="5.0" height="5.0" fill="#fff" fill-opacity="0.6" stroke="#000" stroke-width="1.2"/>
<rect x="85.5" y="127.5" width="5.0" height="5.0" fill="#fff" fill-opacity="0.6" stroke="#000" stroke-width="1.2"/>
<rect x="100.8" y="119.2" width="5.0" height="5.0" fill="#fff" fill-opacity="0.6" stroke="#000" stroke-width="1.2"/>
<rect x="105.6" y="118.1" width="5.0" height="5.0" fill="#fff" fill-opacity="0.6" stroke="#000" stroke-width="1.2"/>
<rect x="115.5" y="108.8" width="5.0" height="5.0" fill="#fff" fill-opacity="0.6" stroke="#000" stroke-width="1.2"/>
<rect x="120.6" y="106.4" width="5.0" height="5.0" fill="#fff" fill-opacity="0.6" stroke="#000" stroke-width="1.2"/>
<rect x="129.2" y="98.6" width="5.0" height="5.0" fill="#fff" fill-opacity="0.6" stroke="#000" stroke-width="1.2"/>
<rect x="135.1" y="96.4" width="5.0" height="5.0" fill="#fff" fill-opacity="0.6" stroke="#000" stroke-width="1.2"/>
<rect x="141.4" y="92.5" width="5.0" height="5.0" fill="#fff" fill-opacity="0.6" stroke="#000" stroke-width="1.2"/>
<rect x="145.8" y="90.3" width="5.0" height="5.0" fill="#fff" fill-opacity="0.6" stroke="#000" stroke-width="1.2"/>
<rect x="152.5" y="83.6" width="5.0" height="5.0" fill="#fff" fill-opacity="0.6" stroke="#000" stroke-width="1.2"/>
<rect x="156.9" y="80.3" width="5.0" height="5.0" fill="#fff" fill-opacity="0.6" stroke="#000" stroke-width="1.2"/>
<rect x="160.8" y="76.4" width="5.0" height="5.0" fill="#fff" fill-opacity="0.6" stroke="#000" stroke-width="1.2"/>
<rect x="164.2" y="69.7" width="5.0" height="5.0" fill="#fff" fill-opacity="0.6" stroke="#000" stroke-width="1.2"/>
<rect x="168.6" y="73.1" width="5.0" height="5.0" fill="#fff" fill-opacity="0.6" stroke="#000" stroke-width="1.2"/>
<rect x="173.1" y="69.2" width="5.0" height="5.0" fill="#fff" fill-opacity="0.6" stroke="#000" stroke-width="1.2"/>
<rect x="178.1" y="66.4" width="5.0" height="5.0" fill="#fff" fill-opacity="0.6" stroke="#000" stroke-width="1.2"/>
<rect x="177.5" y="60.3" width="5.0" height="5.0" fill="#fff" fill-opacity="0.6" stroke="#000" stroke-width="1.2"/>
<rect x="183.6" y="64.2" width="5.0" height="5.0" fill="#fff" fill-opacity="0.6" stroke="#000" stroke-width="1.2"/>
<rect x="188.1" y="61.4" width="5.0" height="5.0" fill="#fff" fill-opacity="0.6" stroke="#000" stroke-width="1.2"/>
<rect x="194.6" y="56.5" width="5.0" height="5.0" fill="#fff" fill-opacity="0.6" stroke="#000" stroke-width="1.2"/>
<rect x="202.7" y="47.6" width="5.0" height="5.0" fill="#fff" fill-opacity="0.6" stroke="#000" stroke-width="1.2"/>
<rect x="209.6" y="43.9" width="5.0" height="5.0" fill="#fff" fill-opacity="0.6" stroke="#000" stroke-width="1.2"/>
<rect x="214.9" y="41.5" width="5.0" height="5.0" fill="#fff" fill-opacity="0.6" stroke="#000" stroke-width="1.2"/>
<rect x="219.8" y="40.7" width="5.0" height="5.0" fill="#fff" fill-opacity="0.6" stroke="#000" stroke-width="1.2"/>
<circle cx="75.3" cy="130.6" r="2.3" fill="#000"/>
<circle cx="88.0" cy="121.4" r="2.3" fill="#000"/>
<circle cx="103.3" cy="113.0" r="2.3" fill="#000"/>
<circle cx="107.8" cy="113.0" r="2.3" fill="#000"/>
<circle cx="118.0" cy="103.9" r="2.3" fill="#000"/>
<circle cx="122.8" cy="103.1" r="2.3" fill="#000"/>
<circle cx="131.1" cy="94.4" r="2.3" fill="#000"/>
<circle cx="137.6" cy="94.2" r="2.3" fill="#000"/>
<circle cx="132.2" cy="97.8" r="2.3" fill="#000"/>
<circle cx="143.9" cy="90.6" r="2.3" fill="#000"/>
<circle cx="147.8" cy="84.4" r="2.3" fill="#000"/>
<circle cx="147.8" cy="87.8" r="2.3" fill="#000"/>
<circle cx="154.4" cy="81.1" r="2.3" fill="#000"/>
<circle cx="159.4" cy="78.3" r="2.3" fill="#000"/>
<circle cx="163.3" cy="75.6" r="2.3" fill="#000"/>
<circle cx="165.6" cy="71.7" r="2.3" fill="#000"/>
<circle cx="175.6" cy="67.2" r="2.3" fill="#000"/>
<circle cx="178.9" cy="61.7" r="2.3" fill="#000"/>
<circle cx="181.1" cy="63.9" r="2.3" fill="#000"/>
<circle cx="186.7" cy="63.3" r="2.3" fill="#000"/>
<circle cx="190.2" cy="60.2" r="2.3" fill="#000"/>
<circle cx="196.7" cy="56.2" r="2.3" fill="#000"/>
<circle cx="204.8" cy="48.5" r="2.3" fill="#000"/>
<circle cx="212.1" cy="44.8" r="2.3" fill="#000"/>
<circle cx="217.0" cy="42.8" r="2.3" fill="#000"/>
<circle cx="221.5" cy="41.1" r="2.3" fill="#000"/>
<rect x="280.5" y="90.5" width="5.0" height="5.0" fill="#fff" fill-opacity="0.6" stroke="#000" stroke-width="1.2"/>
<rect x="281.7" y="93.0" width="5.0" height="5.0" fill="#fff" fill-opacity="0.6" stroke="#000" stroke-width="1.2"/>
<rect x="282.9" y="90.8" width="5.0" height="5.0" fill="#fff" fill-opacity="0.6" stroke="#000" stroke-width="1.2"/>
<rect x="284.1" y="93.3" width="5.0" height="5.0" fill="#fff" fill-opacity="0.6" stroke="#000" stroke-width="1.2"/>
<rect x="285.3" y="91.1" width="5.0" height="5.0" fill="#fff" fill-opacity="0.6" stroke="#000" stroke-width="1.2"/>
<rect x="286.5" y="93.6" width="5.0" height="5.0" fill="#fff" fill-opacity="0.6" stroke="#000" stroke-width="1.2"/>
<rect x="287.7" y="91.4" width="5.0" height="5.0" fill="#fff" fill-opacity="0.6" stroke="#000" stroke-width="1.2"/>
<rect x="288.9" y="93.8" width="5.0" height="5.0" fill="#fff" fill-opacity="0.6" stroke="#000" stroke-width="1.2"/>
<rect x="290.1" y="91.7" width="5.0" height="5.0" fill="#fff" fill-opacity="0.6" stroke="#000" stroke-width="1.2"/>
<rect x="291.3" y="94.1" width="5.0" height="5.0" fill="#fff" fill-opacity="0.6" stroke="#000" stroke-width="1.2"/>
<rect x="292.5" y="92.0" width="5.0" height="5.0" fill="#fff" fill-opacity="0.6" stroke="#000" stroke-width="1.2"/>
<rect x="293.7" y="94.4" width="5.0" height="5.0" fill="#fff" fill-opacity="0.6" stroke="#000" stroke-width="1.2"/>
<rect x="294.9" y="92.3" width="5.0" height="5.0" fill="#fff" fill-opacity="0.6" stroke="#000" stroke-width="1.2"/>
<rect x="296.1" y="94.7" width="5.0" height="5.0" fill="#fff" fill-opacity="0.6" stroke="#000" stroke-width="1.2"/>
<rect x="297.3" y="92.6" width="5.0" height="5.0" fill="#fff" fill-opacity="0.6" stroke="#000" stroke-width="1.2"/>
<rect x="298.5" y="95.0" width="5.0" height="5.0" fill="#fff" fill-opacity="0.6" stroke="#000" stroke-width="1.2"/>
<rect x="299.7" y="92.9" width="5.0" height="5.0" fill="#fff" fill-opacity="0.6" stroke="#000" stroke-width="1.2"/>
<rect x="300.9" y="95.2" width="5.0" height="5.0" fill="#fff" fill-opacity="0.6" stroke="#000" stroke-width="1.2"/>
<rect x="302.1" y="93.2" width="5.0" height="5.0" fill="#fff" fill-opacity="0.6" stroke="#000" stroke-width="1.2"/>
<rect x="303.3" y="95.5" width="5.0" height="5.0" fill="#fff" fill-opacity="0.6" stroke="#000" stroke-width="1.2"/>
<rect x="304.5" y="93.5" width="5.0" height="5.0" fill="#fff" fill-opacity="0.6" stroke="#000" stroke-width="1.2"/>
<rect x="305.7" y="95.8" width="5.0" height="5.0" fill="#fff" fill-opacity="0.6" stroke="#000" stroke-width="1.2"/>
<rect x="306.9" y="93.8" width="5.0" height="5.0" fill="#fff" fill-opacity="0.6" stroke="#000" stroke-width="1.2"/>
<rect x="308.1" y="96.1" width="5.0" height="5.0" fill="#fff" fill-opacity="0.6" stroke="#000" stroke-width="1.2"/>
<rect x="309.3" y="94.1" width="5.0" height="5.0" fill="#fff" fill-opacity="0.6" stroke="#000" stroke-width="1.2"/>
<rect x="310.5" y="96.4" width="5.0" height="5.0" fill="#fff" fill-opacity="0.6" stroke="#000" stroke-width="1.2"/>
<rect x="313.6" y="93.3" width="5.0" height="5.0" fill="#fff" fill-opacity="0.6" stroke="#000" stroke-width="1.2"/>
<rect x="318.4" y="97.5" width="5.0" height="5.0" fill="#fff" fill-opacity="0.6" stroke="#000" stroke-width="1.2"/>
<rect x="325.3" y="96.9" width="5.0" height="5.0" fill="#fff" fill-opacity="0.6" stroke="#000" stroke-width="1.2"/>
<rect x="331.4" y="97.3" width="5.0" height="5.0" fill="#fff" fill-opacity="0.6" stroke="#000" stroke-width="1.2"/>
<rect x="337.5" y="94.2" width="5.0" height="5.0" fill="#fff" fill-opacity="0.6" stroke="#000" stroke-width="1.2"/>
<rect x="342.5" y="81.9" width="5.0" height="5.0" fill="#fff" fill-opacity="0.6" stroke="#000" stroke-width="1.2"/>
<rect x="322.5" y="84.2" width="5.0" height="5.0" fill="#fff" fill-opacity="0.6" stroke="#000" stroke-width="1.2"/>
<rect x="330.8" y="89.2" width="5.0" height="5.0" fill="#fff" fill-opacity="0.6" stroke="#000" stroke-width="1.2"/>
<rect x="336.4" y="104.7" width="5.0" height="5.0" fill="#fff" fill-opacity="0.6" stroke="#000" stroke-width="1.2"/>
<rect x="343.3" y="105.8" width="5.0" height="5.0" fill="#fff" fill-opacity="0.6" stroke="#000" stroke-width="1.2"/>
<rect x="356.9" y="108.6" width="5.0" height="5.0" fill="#fff" fill-opacity="0.6" stroke="#000" stroke-width="1.2"/>
<rect x="392.5" y="92.8" width="5.0" height="5.0" fill="#fff" fill-opacity="0.6" stroke="#000" stroke-width="1.2"/>
<rect x="409.7" y="102.5" width="5.0" height="5.0" fill="#fff" fill-opacity="0.6" stroke="#000" stroke-width="1.2"/>
<rect x="423.1" y="117.1" width="5.0" height="5.0" fill="#fff" fill-opacity="0.6" stroke="#000" stroke-width="1.2"/>
<rect x="429.1" y="132.9" width="5.0" height="5.0" fill="#fff" fill-opacity="0.6" stroke="#000" stroke-width="1.2"/>
<circle cx="283.6" cy="90.3" r="2.3" fill="#000"/>
<circle cx="286.0" cy="91.0" r="2.3" fill="#000"/>
<circle cx="288.4" cy="90.3" r="2.3" fill="#000"/>
<circle cx="290.8" cy="91.0" r="2.3" fill="#000"/>
<circle cx="293.2" cy="90.3" r="2.3" fill="#000"/>
<circle cx="295.6" cy="91.0" r="2.3" fill="#000"/>
<circle cx="298.0" cy="90.3" r="2.3" fill="#000"/>
<circle cx="300.4" cy="91.0" r="2.3" fill="#000"/>
<circle cx="302.8" cy="90.3" r="2.3" fill="#000"/>
<circle cx="305.2" cy="91.0" r="2.3" fill="#000"/>
<circle cx="307.6" cy="90.3" r="2.3" fill="#000"/>
<circle cx="310.0" cy="91.0" r="2.3" fill="#000"/>
<circle cx="312.4" cy="90.3" r="2.3" fill="#000"/>
<circle cx="349.4" cy="78.9" r="2.3" fill="#000"/>
<circle cx="326.7" cy="85.0" r="2.3" fill="#000"/>
<circle cx="327.2" cy="91.7" r="2.3" fill="#000"/>
<circle cx="336.1" cy="87.8" r="2.3" fill="#000"/>
<circle cx="340.6" cy="90.6" r="2.3" fill="#000"/>
<circle cx="343.3" cy="92.2" r="2.3" fill="#000"/>
<circle cx="346.1" cy="97.6" r="2.3" fill="#000"/>
<circle cx="353.9" cy="97.6" r="2.3" fill="#000"/>
<circle cx="300.6" cy="87.8" r="2.3" fill="#000"/>
<circle cx="308.9" cy="88.3" r="2.3" fill="#000"/>
<circle cx="312.8" cy="89.4" r="2.3" fill="#000"/>
<circle cx="316.7" cy="90.0" r="2.3" fill="#000"/>
<circle cx="320.6" cy="88.9" r="2.3" fill="#000"/>
<circle cx="295.6" cy="89.4" r="2.3" fill="#000"/>
<circle cx="367.8" cy="99.8" r="2.3" fill="#000"/>
<circle cx="399.4" cy="89.8" r="2.3" fill="#000"/>
<circle cx="419.4" cy="95.4" r="2.3" fill="#000"/>
<circle cx="434.1" cy="108.1" r="2.3" fill="#000"/>
<circle cx="440.6" cy="123.0" r="2.3" fill="#000"/>
<rect x="543.6" y="84.0" width="5.0" height="5.0" fill="#fff" fill-opacity="0.6" stroke="#000" stroke-width="1.2"/>
<rect x="535.1" y="95.4" width="5.0" height="5.0" fill="#fff" fill-opacity="0.6" stroke="#000" stroke-width="1.2"/>
<rect x="540.2" y="96.2" width="5.0" height="5.0" fill="#fff" fill-opacity="0.6" stroke="#000" stroke-width="1.2"/>
<rect x="538.5" y="104.3" width="5.0" height="5.0" fill="#fff" fill-opacity="0.6" stroke="#000" stroke-width="1.2"/>
<rect x="547.8" y="106.8" width="5.0" height="5.0" fill="#fff" fill-opacity="0.6" stroke="#000" stroke-width="1.2"/>
<rect x="544.8" y="110.2" width="5.0" height="5.0" fill="#fff" fill-opacity="0.6" stroke="#000" stroke-width="1.2"/>
<rect x="541.4" y="118.2" width="5.0" height="5.0" fill="#fff" fill-opacity="0.6" stroke="#000" stroke-width="1.2"/>
<rect x="543.6" y="134.3" width="5.0" height="5.0" fill="#fff" fill-opacity="0.6" stroke="#000" stroke-width="1.2"/>
<rect x="557.9" y="100.0" width="5.0" height="5.0" fill="#fff" fill-opacity="0.6" stroke="#000" stroke-width="1.2"/>
<rect x="552.9" y="98.8" width="5.0" height="5.0" fill="#fff" fill-opacity="0.6" stroke="#000" stroke-width="1.2"/>
<rect x="550.3" y="99.6" width="5.0" height="5.0" fill="#fff" fill-opacity="0.6" stroke="#000" stroke-width="1.2"/>
<rect x="563.0" y="95.4" width="5.0" height="5.0" fill="#fff" fill-opacity="0.6" stroke="#000" stroke-width="1.2"/>
<rect x="570.2" y="96.2" width="5.0" height="5.0" fill="#fff" fill-opacity="0.6" stroke="#000" stroke-width="1.2"/>
<rect x="576.5" y="95.4" width="5.0" height="5.0" fill="#fff" fill-opacity="0.6" stroke="#000" stroke-width="1.2"/>
<rect x="583.7" y="94.5" width="5.0" height="5.0" fill="#fff" fill-opacity="0.6" stroke="#000" stroke-width="1.2"/>
<rect x="549.5" y="96.2" width="5.0" height="5.0" fill="#fff" fill-opacity="0.6" stroke="#000" stroke-width="1.2"/>
<rect x="554.5" y="94.5" width="5.0" height="5.0" fill="#fff" fill-opacity="0.6" stroke="#000" stroke-width="1.2"/>
<rect x="532.0" y="94.0" width="5.0" height="5.0" fill="#fff" fill-opacity="0.6" stroke="#000" stroke-width="1.2"/>
<rect x="610.3" y="93.9" width="5.0" height="5.0" fill="#fff" fill-opacity="0.6" stroke="#000" stroke-width="1.2"/>
<rect x="637.5" y="93.9" width="5.0" height="5.0" fill="#fff" fill-opacity="0.6" stroke="#000" stroke-width="1.2"/>
<rect x="664.7" y="93.9" width="5.0" height="5.0" fill="#fff" fill-opacity="0.6" stroke="#000" stroke-width="1.2"/>
<rect x="690.3" y="92.8" width="5.0" height="5.0" fill="#fff" fill-opacity="0.6" stroke="#000" stroke-width="1.2"/>
<rect x="717.1" y="92.8" width="5.0" height="5.0" fill="#fff" fill-opacity="0.6" stroke="#000" stroke-width="1.2"/>
<circle cx="546.1" cy="81.0" r="2.3" fill="#000"/>
<circle cx="535.9" cy="87.8" r="2.3" fill="#000"/>
<circle cx="538.5" cy="90.3" r="2.3" fill="#000"/>
<circle cx="540.1" cy="92.4" r="2.3" fill="#000"/>
<circle cx="542.7" cy="94.5" r="2.3" fill="#000"/>
<circle cx="541.0" cy="97.0" r="2.3" fill="#000"/>
<circle cx="547.8" cy="101.7" r="2.3" fill="#000"/>
<circle cx="550.7" cy="99.6" r="2.3" fill="#000"/>
<circle cx="552.4" cy="93.7" r="2.3" fill="#000"/>
<circle cx="555.4" cy="93.7" r="2.3" fill="#000"/>
<circle cx="557.9" cy="94.5" r="2.3" fill="#000"/>
<circle cx="560.4" cy="93.7" r="2.3" fill="#000"/>
<circle cx="566.3" cy="91.1" r="2.3" fill="#000"/>
<circle cx="573.1" cy="92.0" r="2.3" fill="#000"/>
<circle cx="579.5" cy="91.6" r="2.3" fill="#000"/>
<circle cx="587.5" cy="90.7" r="2.3" fill="#000"/>
<circle cx="544.4" cy="109.7" r="2.3" fill="#000"/>
<circle cx="546.1" cy="124.5" r="2.3" fill="#000"/>
<circle cx="550.7" cy="95.4" r="2.3" fill="#000"/>
<circle cx="534.3" cy="87.5" r="2.3" fill="#000"/>
<circle cx="549.0" cy="103.0" r="2.3" fill="#000"/>
<circle cx="612.8" cy="90.4" r="2.3" fill="#000"/>
<circle cx="640.0" cy="91.5" r="2.3" fill="#000"/>
<circle cx="667.2" cy="91.7" r="2.3" fill="#000"/>
<circle cx="692.8" cy="91.7" r="2.3" fill="#000"/>
<circle cx="719.6" cy="92.6" r="2.3" fill="#000"/>
<rect x="87.5" y="336.9" width="5.0" height="5.0" fill="#fff" fill-opacity="0.6" stroke="#000" stroke-width="1.2"/>
<rect x="103.3" y="323.1" width="5.0" height="5.0" fill="#fff" fill-opacity="0.6" stroke="#000" stroke-width="1.2"/>
<rect x="113.1" y="315.1" width="5.0" height="5.0" fill="#fff" fill-opacity="0.6" stroke="#000" stroke-width="1.2"/>
<rect x="121.4" y="310.3" width="5.0" height="5.0" fill="#fff" fill-opacity="0.6" stroke="#000" stroke-width="1.2"/>
<rect x="124.7" y="306.9" width="5.0" height="5.0" fill="#fff" fill-opacity="0.6" stroke="#000" stroke-width="1.2"/>
<rect x="125.8" y="313.6" width="5.0" height="5.0" fill="#fff" fill-opacity="0.6" stroke="#000" stroke-width="1.2"/>
<rect x="131.4" y="300.3" width="5.0" height="5.0" fill="#fff" fill-opacity="0.6" stroke="#000" stroke-width="1.2"/>
<rect x="131.4" y="305.8" width="5.0" height="5.0" fill="#fff" fill-opacity="0.6" stroke="#000" stroke-width="1.2"/>
<rect x="138.1" y="291.9" width="5.0" height="5.0" fill="#fff" fill-opacity="0.6" stroke="#000" stroke-width="1.2"/>
<rect x="144.2" y="284.7" width="5.0" height="5.0" fill="#fff" fill-opacity="0.6" stroke="#000" stroke-width="1.2"/>
<rect x="144.2" y="300.3" width="5.0" height="5.0" fill="#fff" fill-opacity="0.6" stroke="#000" stroke-width="1.2"/>
<rect x="145.3" y="301.9" width="5.0" height="5.0" fill="#fff" fill-opacity="0.6" stroke="#000" stroke-width="1.2"/>
<rect x="143.1" y="303.1" width="5.0" height="5.0" fill="#fff" fill-opacity="0.6" stroke="#000" stroke-width="1.2"/>
<rect x="137.7" y="291.7" width="5.0" height="5.0" fill="#fff" fill-opacity="0.6" stroke="#000" stroke-width="1.2"/>
<rect x="147.8" y="293.1" width="5.0" height="5.0" fill="#fff" fill-opacity="0.6" stroke="#000" stroke-width="1.2"/>
<rect x="145.1" y="297.1" width="5.0" height="5.0" fill="#fff" fill-opacity="0.6" stroke="#000" stroke-width="1.2"/>
<rect x="154.6" y="282.2" width="5.0" height="5.0" fill="#fff" fill-opacity="0.6" stroke="#000" stroke-width="1.2"/>
<rect x="154.6" y="287.6" width="5.0" height="5.0" fill="#fff" fill-opacity="0.6" stroke="#000" stroke-width="1.2"/>
<rect x="156.0" y="289.0" width="5.0" height="5.0" fill="#fff" fill-opacity="0.6" stroke="#000" stroke-width="1.2"/>
<rect x="149.7" y="294.2" width="5.0" height="5.0" fill="#fff" fill-opacity="0.6" stroke="#000" stroke-width="1.2"/>
<rect x="146.4" y="295.8" width="5.0" height="5.0" fill="#fff" fill-opacity="0.6" stroke="#000" stroke-width="1.2"/>
<rect x="154.2" y="285.3" width="5.0" height="5.0" fill="#fff" fill-opacity="0.6" stroke="#000" stroke-width="1.2"/>
<rect x="165.4" y="280.2" width="5.0" height="5.0" fill="#fff" fill-opacity="0.6" stroke="#000" stroke-width="1.2"/>
<rect x="168.2" y="274.1" width="5.0" height="5.0" fill="#fff" fill-opacity="0.6" stroke="#000" stroke-width="1.2"/>
<rect x="160.0" y="273.4" width="5.0" height="5.0" fill="#fff" fill-opacity="0.6" stroke="#000" stroke-width="1.2"/>
<rect x="164.1" y="271.4" width="5.0" height="5.0" fill="#fff" fill-opacity="0.6" stroke="#000" stroke-width="1.2"/>
<rect x="147.8" y="277.5" width="5.0" height="5.0" fill="#fff" fill-opacity="0.6" stroke="#000" stroke-width="1.2"/>
<rect x="181.7" y="262.6" width="5.0" height="5.0" fill="#fff" fill-opacity="0.6" stroke="#000" stroke-width="1.2"/>
<rect x="184.4" y="261.9" width="5.0" height="5.0" fill="#fff" fill-opacity="0.6" stroke="#000" stroke-width="1.2"/>
<rect x="188.5" y="260.5" width="5.0" height="5.0" fill="#fff" fill-opacity="0.6" stroke="#000" stroke-width="1.2"/>
<rect x="191.2" y="256.5" width="5.0" height="5.0" fill="#fff" fill-opacity="0.6" stroke="#000" stroke-width="1.2"/>
<rect x="193.9" y="253.8" width="5.0" height="5.0" fill="#fff" fill-opacity="0.6" stroke="#000" stroke-width="1.2"/>
<rect x="196.6" y="251.7" width="5.0" height="5.0" fill="#fff" fill-opacity="0.6" stroke="#000" stroke-width="1.2"/>
<rect x="198.0" y="251.1" width="5.0" height="5.0" fill="#fff" fill-opacity="0.6" stroke="#000" stroke-width="1.2"/>
<rect x="173.5" y="267.5" width="5.0" height="5.0" fill="#fff" fill-opacity="0.6" stroke="#000" stroke-width="1.2"/>
<rect x="177.5" y="265.5" width="5.0" height="5.0" fill="#fff" fill-opacity="0.6" stroke="#000" stroke-width="1.2"/>
<rect x="169.5" y="269.5" width="5.0" height="5.0" fill="#fff" fill-opacity="0.6" stroke="#000" stroke-width="1.2"/>
<rect x="157.5" y="277.5" width="5.0" height="5.0" fill="#fff" fill-opacity="0.6" stroke="#000" stroke-width="1.2"/>
<rect x="127.5" y="284.2" width="5.0" height="5.0" fill="#fff" fill-opacity="0.6" stroke="#000" stroke-width="1.2"/>
<rect x="137.5" y="275.8" width="5.0" height="5.0" fill="#fff" fill-opacity="0.6" stroke="#000" stroke-width="1.2"/>
<rect x="137.0" y="276.1" width="5.0" height="5.0" fill="#fff" fill-opacity="0.6" stroke="#000" stroke-width="1.2"/>
<rect x="150.5" y="270.7" width="5.0" height="5.0" fill="#fff" fill-opacity="0.6" stroke="#000" stroke-width="1.2"/>
<rect x="156.0" y="268.7" width="5.0" height="5.0" fill="#fff" fill-opacity="0.6" stroke="#000" stroke-width="1.2"/>
<rect x="166.1" y="263.9" width="5.0" height="5.0" fill="#fff" fill-opacity="0.6" stroke="#000" stroke-width="1.2"/>
<rect x="172.2" y="263.2" width="5.0" height="5.0" fill="#fff" fill-opacity="0.6" stroke="#000" stroke-width="1.2"/>
<rect x="175.6" y="263.9" width="5.0" height="5.0" fill="#fff" fill-opacity="0.6" stroke="#000" stroke-width="1.2"/>
<rect x="148.6" y="277.5" width="5.0" height="5.0" fill="#fff" fill-opacity="0.6" stroke="#000" stroke-width="1.2"/>
<rect x="150.8" y="270.8" width="5.0" height="5.0" fill="#fff" fill-opacity="0.6" stroke="#000" stroke-width="1.2"/>
<rect x="155.3" y="270.8" width="5.0" height="5.0" fill="#fff" fill-opacity="0.6" stroke="#000" stroke-width="1.2"/>
<circle cx="90.0" cy="340.2" r="2.3" fill="#000"/>
<circle cx="105.8" cy="326.4" r="2.3" fill="#000"/>
<circle cx="115.6" cy="318.4" r="2.3" fill="#000"/>
<circle cx="123.9" cy="313.6" r="2.3" fill="#000"/>
<circle cx="127.2" cy="310.2" r="2.3" fill="#000"/>
<circle cx="128.3" cy="316.9" r="2.3" fill="#000"/>
<circle cx="133.9" cy="303.6" r="2.3" fill="#000"/>
<circle cx="133.9" cy="309.1" r="2.3" fill="#000"/>
<circle cx="140.6" cy="295.2" r="2.3" fill="#000"/>
<circle cx="146.7" cy="288.0" r="2.3" fill="#000"/>
<circle cx="146.7" cy="303.6" r="2.3" fill="#000"/>
<circle cx="147.8" cy="305.2" r="2.3" fill="#000"/>
<circle cx="145.6" cy="306.4" r="2.3" fill="#000"/>
<circle cx="140.2" cy="295.0" r="2.3" fill="#000"/>
<circle cx="150.3" cy="296.4" r="2.3" fill="#000"/>
<circle cx="147.6" cy="300.4" r="2.3" fill="#000"/>
<circle cx="157.1" cy="285.5" r="2.3" fill="#000"/>
<circle cx="157.1" cy="290.9" r="2.3" fill="#000"/>
<circle cx="158.5" cy="292.3" r="2.3" fill="#000"/>
<circle cx="152.2" cy="297.5" r="2.3" fill="#000"/>
<circle cx="148.9" cy="299.1" r="2.3" fill="#000"/>
<circle cx="156.7" cy="288.6" r="2.3" fill="#000"/>
<circle cx="167.9" cy="283.5" r="2.3" fill="#000"/>
<circle cx="170.7" cy="277.4" r="2.3" fill="#000"/>
<circle cx="162.5" cy="276.7" r="2.3" fill="#000"/>
<circle cx="166.6" cy="274.7" r="2.3" fill="#000"/>
<circle cx="150.3" cy="280.8" r="2.3" fill="#000"/>
<circle cx="184.2" cy="265.9" r="2.3" fill="#000"/>
<circle cx="186.9" cy="265.2" r="2.3" fill="#000"/>
<circle cx="191.0" cy="263.8" r="2.3" fill="#000"/>
<circle cx="193.7" cy="259.8" r="2.3" fill="#000"/>
<circle cx="196.4" cy="257.1" r="2.3" fill="#000"/>
<circle cx="199.1" cy="255.0" r="2.3" fill="#000"/>
<circle cx="200.5" cy="254.4" r="2.3" fill="#000"/>
<circle cx="176.0" cy="270.8" r="2.3" fill="#000"/>
<circle cx="180.0" cy="268.8" r="2.3" fill="#000"/>
<circle cx="172.0" cy="272.8" r="2.3" fill="#000"/>
<circle cx="160.0" cy="280.8" r="2.3" fill="#000"/>
<circle cx="130.0" cy="292.8" r="2.3" fill="#000"/>
<circle cx="140.0" cy="282.2" r="2.3" fill="#000"/>
<circle cx="139.5" cy="282.7" r="2.3" fill="#000"/>
<circle cx="146.3" cy="286.7" r="2.3" fill="#000"/>
<circle cx="157.1" cy="279.3" r="2.3" fill="#000"/>
<circle cx="191.0" cy="266.4" r="2.3" fill="#000"/>
<circle cx="184.2" cy="269.1" r="2.3" fill="#000"/>
<circle cx="145.6" cy="303.7" r="2.3" fill="#000"/>
<circle cx="150.0" cy="300.0" r="2.3" fill="#000"/>
<circle cx="155.0" cy="293.0" r="2.3" fill="#000"/>
<circle cx="162.0" cy="287.0" r="2.3" fill="#000"/>
<circle cx="165.0" cy="284.0" r="2.3" fill="#000"/>
<circle cx="178.0" cy="274.0" r="2.3" fill="#000"/>
<circle cx="188.0" cy="268.0" r="2.3" fill="#000"/>
<circle cx="195.0" cy="262.0" r="2.3" fill="#000"/>
<rect x="284.0" y="298.5" width="5.0" height="5.0" fill="#fff" fill-opacity="0.6" stroke="#000" stroke-width="1.2"/>
<rect x="285.0" y="301.3" width="5.0" height="5.0" fill="#fff" fill-opacity="0.6" stroke="#000" stroke-width="1.2"/>
<rect x="285.9" y="299.1" width="5.0" height="5.0" fill="#fff" fill-opacity="0.6" stroke="#000" stroke-width="1.2"/>
<rect x="286.9" y="300.7" width="5.0" height="5.0" fill="#fff" fill-opacity="0.6" stroke="#000" stroke-width="1.2"/>
<rect x="287.8" y="299.7" width="5.0" height="5.0" fill="#fff" fill-opacity="0.6" stroke="#000" stroke-width="1.2"/>
<rect x="288.8" y="301.3" width="5.0" height="5.0" fill="#fff" fill-opacity="0.6" stroke="#000" stroke-width="1.2"/>
<rect x="289.7" y="298.5" width="5.0" height="5.0" fill="#fff" fill-opacity="0.6" stroke="#000" stroke-width="1.2"/>
<rect x="290.7" y="300.7" width="5.0" height="5.0" fill="#fff" fill-opacity="0.6" stroke="#000" stroke-width="1.2"/>
<rect x="291.6" y="299.1" width="5.0" height="5.0" fill="#fff" fill-opacity="0.6" stroke="#000" stroke-width="1.2"/>
<rect x="292.6" y="301.3" width="5.0" height="5.0" fill="#fff" fill-opacity="0.6" stroke="#000" stroke-width="1.2"/>
<rect x="293.5" y="299.7" width="5.0" height="5.0" fill="#fff" fill-opacity="0.6" stroke="#000" stroke-width="1.2"/>
<rect x="294.5" y="300.7" width="5.0" height="5.0" fill="#fff" fill-opacity="0.6" stroke="#000" stroke-width="1.2"/>
<rect x="295.4" y="298.5" width="5.0" height="5.0" fill="#fff" fill-opacity="0.6" stroke="#000" stroke-width="1.2"/>
<rect x="296.4" y="301.3" width="5.0" height="5.0" fill="#fff" fill-opacity="0.6" stroke="#000" stroke-width="1.2"/>
<rect x="297.3" y="299.1" width="5.0" height="5.0" fill="#fff" fill-opacity="0.6" stroke="#000" stroke-width="1.2"/>
<rect x="298.3" y="300.7" width="5.0" height="5.0" fill="#fff" fill-opacity="0.6" stroke="#000" stroke-width="1.2"/>
<rect x="299.2" y="299.7" width="5.0" height="5.0" fill="#fff" fill-opacity="0.6" stroke="#000" stroke-width="1.2"/>
<rect x="300.2" y="301.3" width="5.0" height="5.0" fill="#fff" fill-opacity="0.6" stroke="#000" stroke-width="1.2"/>
<rect x="301.1" y="298.5" width="5.0" height="5.0" fill="#fff" fill-opacity="0.6" stroke="#000" stroke-width="1.2"/>
<rect x="302.1" y="300.7" width="5.0" height="5.0" fill="#fff" fill-opacity="0.6" stroke="#000" stroke-width="1.2"/>
<rect x="303.0" y="299.1" width="5.0" height="5.0" fill="#fff" fill-opacity="0.6" stroke="#000" stroke-width="1.2"/>
<rect x="304.0" y="301.3" width="5.0" height="5.0" fill="#fff" fill-opacity="0.6" stroke="#000" stroke-width="1.2"/>
<rect x="304.9" y="299.7" width="5.0" height="5.0" fill="#fff" fill-opacity="0.6" stroke="#000" stroke-width="1.2"/>
<rect x="305.9" y="300.7" width="5.0" height="5.0" fill="#fff" fill-opacity="0.6" stroke="#000" stroke-width="1.2"/>
<rect x="306.8" y="298.5" width="5.0" height="5.0" fill="#fff" fill-opacity="0.6" stroke="#000" stroke-width="1.2"/>
<rect x="307.8" y="301.3" width="5.0" height="5.0" fill="#fff" fill-opacity="0.6" stroke="#000" stroke-width="1.2"/>
<rect x="308.7" y="299.1" width="5.0" height="5.0" fill="#fff" fill-opacity="0.6" stroke="#000" stroke-width="1.2"/>
<rect x="309.7" y="300.7" width="5.0" height="5.0" fill="#fff" fill-opacity="0.6" stroke="#000" stroke-width="1.2"/>
<rect x="313.2" y="287.5" width="5.0" height="5.0" fill="#fff" fill-opacity="0.6" stroke="#000" stroke-width="1.2"/>
<rect x="319.8" y="291.9" width="5.0" height="5.0" fill="#fff" fill-opacity="0.6" stroke="#000" stroke-width="1.2"/>
<rect x="320.9" y="299.2" width="5.0" height="5.0" fill="#fff" fill-opacity="0.6" stroke="#000" stroke-width="1.2"/>
<rect x="332.6" y="279.2" width="5.0" height="5.0" fill="#fff" fill-opacity="0.6" stroke="#000" stroke-width="1.2"/>
<rect x="328.2" y="285.3" width="5.0" height="5.0" fill="#fff" fill-opacity="0.6" stroke="#000" stroke-width="1.2"/>
<rect x="327.1" y="290.3" width="5.0" height="5.0" fill="#fff" fill-opacity="0.6" stroke="#000" stroke-width="1.2"/>
<rect x="336.5" y="287.5" width="5.0" height="5.0" fill="#fff" fill-opacity="0.6" stroke="#000" stroke-width="1.2"/>
<rect x="342.6" y="287.5" width="5.0" height="5.0" fill="#fff" fill-opacity="0.6" stroke="#000" stroke-width="1.2"/>
<rect x="342.1" y="293.6" width="5.0" height="5.0" fill="#fff" fill-opacity="0.6" stroke="#000" stroke-width="1.2"/>
<rect x="346.5" y="277.3" width="5.0" height="5.0" fill="#fff" fill-opacity="0.6" stroke="#000" stroke-width="1.2"/>
<rect x="352.1" y="285.3" width="5.0" height="5.0" fill="#fff" fill-opacity="0.6" stroke="#000" stroke-width="1.2"/>
<rect x="358.7" y="273.1" width="5.0" height="5.0" fill="#fff" fill-opacity="0.6" stroke="#000" stroke-width="1.2"/>
<rect x="353.1" y="284.7" width="5.0" height="5.0" fill="#fff" fill-opacity="0.6" stroke="#000" stroke-width="1.2"/>
<rect x="364.7" y="281.4" width="5.0" height="5.0" fill="#fff" fill-opacity="0.6" stroke="#000" stroke-width="1.2"/>
<rect x="369.7" y="289.7" width="5.0" height="5.0" fill="#fff" fill-opacity="0.6" stroke="#000" stroke-width="1.2"/>
<rect x="375.8" y="270.3" width="5.0" height="5.0" fill="#fff" fill-opacity="0.6" stroke="#000" stroke-width="1.2"/>
<rect x="374.7" y="278.1" width="5.0" height="5.0" fill="#fff" fill-opacity="0.6" stroke="#000" stroke-width="1.2"/>
<rect x="380.8" y="273.1" width="5.0" height="5.0" fill="#fff" fill-opacity="0.6" stroke="#000" stroke-width="1.2"/>
<rect x="381.4" y="276.9" width="5.0" height="5.0" fill="#fff" fill-opacity="0.6" stroke="#000" stroke-width="1.2"/>
<rect x="389.7" y="285.8" width="5.0" height="5.0" fill="#fff" fill-opacity="0.6" stroke="#000" stroke-width="1.2"/>
<rect x="401.4" y="287.5" width="5.0" height="5.0" fill="#fff" fill-opacity="0.6" stroke="#000" stroke-width="1.2"/>
<rect x="420.3" y="287.1" width="5.0" height="5.0" fill="#fff" fill-opacity="0.6" stroke="#000" stroke-width="1.2"/>
<rect x="433.4" y="274.8" width="5.0" height="5.0" fill="#fff" fill-opacity="0.6" stroke="#000" stroke-width="1.2"/>
<rect x="445.3" y="280.8" width="5.0" height="5.0" fill="#fff" fill-opacity="0.6" stroke="#000" stroke-width="1.2"/>
<rect x="465.7" y="271.5" width="5.0" height="5.0" fill="#fff" fill-opacity="0.6" stroke="#000" stroke-width="1.2"/>
<rect x="468.1" y="264.4" width="5.0" height="5.0" fill="#fff" fill-opacity="0.6" stroke="#000" stroke-width="1.2"/>
<rect x="479.5" y="264.4" width="5.0" height="5.0" fill="#fff" fill-opacity="0.6" stroke="#000" stroke-width="1.2"/>
<rect x="308.5" y="294.5" width="5.0" height="5.0" fill="#fff" fill-opacity="0.6" stroke="#000" stroke-width="1.2"/>
<rect x="303.5" y="296.0" width="5.0" height="5.0" fill="#fff" fill-opacity="0.6" stroke="#000" stroke-width="1.2"/>
<circle cx="287.0" cy="302.0" r="2.3" fill="#000"/>
<circle cx="287.4" cy="304.0" r="2.3" fill="#000"/>
<circle cx="288.9" cy="302.0" r="2.3" fill="#000"/>
<circle cx="289.3" cy="304.0" r="2.3" fill="#000"/>
<circle cx="290.8" cy="302.0" r="2.3" fill="#000"/>
<circle cx="291.2" cy="304.0" r="2.3" fill="#000"/>
<circle cx="292.7" cy="302.0" r="2.3" fill="#000"/>
<circle cx="293.1" cy="304.0" r="2.3" fill="#000"/>
<circle cx="294.6" cy="302.0" r="2.3" fill="#000"/>
<circle cx="295.0" cy="304.0" r="2.3" fill="#000"/>
<circle cx="296.5" cy="302.0" r="2.3" fill="#000"/>
<circle cx="296.9" cy="304.0" r="2.3" fill="#000"/>
<circle cx="298.4" cy="302.0" r="2.3" fill="#000"/>
<circle cx="298.8" cy="304.0" r="2.3" fill="#000"/>
<circle cx="300.3" cy="302.0" r="2.3" fill="#000"/>
<circle cx="300.7" cy="304.0" r="2.3" fill="#000"/>
<circle cx="302.2" cy="302.0" r="2.3" fill="#000"/>
<circle cx="302.6" cy="304.0" r="2.3" fill="#000"/>
<circle cx="304.1" cy="302.0" r="2.3" fill="#000"/>
<circle cx="304.5" cy="304.0" r="2.3" fill="#000"/>
<circle cx="306.0" cy="302.0" r="2.3" fill="#000"/>
<circle cx="306.4" cy="304.0" r="2.3" fill="#000"/>
<circle cx="307.9" cy="302.0" r="2.3" fill="#000"/>
<circle cx="308.3" cy="304.0" r="2.3" fill="#000"/>
<circle cx="309.8" cy="302.0" r="2.3" fill="#000"/>
<circle cx="310.2" cy="304.0" r="2.3" fill="#000"/>
<circle cx="311.7" cy="302.0" r="2.3" fill="#000"/>
<circle cx="312.1" cy="304.0" r="2.3" fill="#000"/>
<circle cx="306.8" cy="295.0" r="2.3" fill="#000"/>
<circle cx="324.0" cy="287.8" r="2.3" fill="#000"/>
<circle cx="314.0" cy="295.6" r="2.3" fill="#000"/>
<circle cx="319.0" cy="296.7" r="2.3" fill="#000"/>
<circle cx="326.2" cy="294.4" r="2.3" fill="#000"/>
<circle cx="333.4" cy="287.2" r="2.3" fill="#000"/>
<circle cx="334.6" cy="292.2" r="2.3" fill="#000"/>
<circle cx="339.0" cy="293.3" r="2.3" fill="#000"/>
<circle cx="341.2" cy="296.7" r="2.3" fill="#000"/>
<circle cx="345.1" cy="283.9" r="2.3" fill="#000"/>
<circle cx="346.8" cy="292.2" r="2.3" fill="#000"/>
<circle cx="356.2" cy="290.0" r="2.3" fill="#000"/>
<circle cx="361.8" cy="281.7" r="2.3" fill="#000"/>
<circle cx="362.9" cy="288.9" r="2.3" fill="#000"/>
<circle cx="356.1" cy="289.4" r="2.3" fill="#000"/>
<circle cx="362.2" cy="281.7" r="2.3" fill="#000"/>
<circle cx="365.0" cy="285.6" r="2.3" fill="#000"/>
<circle cx="362.8" cy="290.0" r="2.3" fill="#000"/>
<circle cx="366.1" cy="295.3" r="2.3" fill="#000"/>
<circle cx="382.2" cy="293.6" r="2.3" fill="#000"/>
<circle cx="392.2" cy="296.7" r="2.3" fill="#000"/>
<circle cx="403.9" cy="294.2" r="2.3" fill="#000"/>
<circle cx="407.2" cy="298.1" r="2.3" fill="#000"/>
<circle cx="426.6" cy="294.7" r="2.3" fill="#000"/>
<circle cx="436.7" cy="284.4" r="2.3" fill="#000"/>
<circle cx="437.6" cy="284.4" r="2.3" fill="#000"/>
<circle cx="439.4" cy="289.6" r="2.3" fill="#000"/>
<circle cx="310.0" cy="299.0" r="2.3" fill="#000"/>
<circle cx="303.0" cy="300.0" r="2.3" fill="#000"/>
<rect x="537.5" y="267.2" width="5.0" height="5.0" fill="#fff" fill-opacity="0.6" stroke="#000" stroke-width="1.2"/>
<rect x="544.1" y="267.2" width="5.0" height="5.0" fill="#fff" fill-opacity="0.6" stroke="#000" stroke-width="1.2"/>
<rect x="533.1" y="276.4" width="5.0" height="5.0" fill="#fff" fill-opacity="0.6" stroke="#000" stroke-width="1.2"/>
<rect x="537.9" y="272.9" width="5.0" height="5.0" fill="#fff" fill-opacity="0.6" stroke="#000" stroke-width="1.2"/>
<rect x="541.0" y="276.0" width="5.0" height="5.0" fill="#fff" fill-opacity="0.6" stroke="#000" stroke-width="1.2"/>
<rect x="544.1" y="279.1" width="5.0" height="5.0" fill="#fff" fill-opacity="0.6" stroke="#000" stroke-width="1.2"/>
<rect x="549.4" y="274.2" width="5.0" height="5.0" fill="#fff" fill-opacity="0.6" stroke="#000" stroke-width="1.2"/>
<rect x="549.4" y="281.3" width="5.0" height="5.0" fill="#fff" fill-opacity="0.6" stroke="#000" stroke-width="1.2"/>
<rect x="555.5" y="283.9" width="5.0" height="5.0" fill="#fff" fill-opacity="0.6" stroke="#000" stroke-width="1.2"/>
<rect x="528.2" y="280.4" width="5.0" height="5.0" fill="#fff" fill-opacity="0.6" stroke="#000" stroke-width="1.2"/>
<rect x="528.2" y="288.8" width="5.0" height="5.0" fill="#fff" fill-opacity="0.6" stroke="#000" stroke-width="1.2"/>
<rect x="533.1" y="289.7" width="5.0" height="5.0" fill="#fff" fill-opacity="0.6" stroke="#000" stroke-width="1.2"/>
<rect x="536.2" y="290.1" width="5.0" height="5.0" fill="#fff" fill-opacity="0.6" stroke="#000" stroke-width="1.2"/>
<rect x="538.8" y="294.9" width="5.0" height="5.0" fill="#fff" fill-opacity="0.6" stroke="#000" stroke-width="1.2"/>
<rect x="545.4" y="299.8" width="5.0" height="5.0" fill="#fff" fill-opacity="0.6" stroke="#000" stroke-width="1.2"/>
<rect x="551.6" y="302.9" width="5.0" height="5.0" fill="#fff" fill-opacity="0.6" stroke="#000" stroke-width="1.2"/>
<rect x="558.6" y="302.9" width="5.0" height="5.0" fill="#fff" fill-opacity="0.6" stroke="#000" stroke-width="1.2"/>
<rect x="565.7" y="302.9" width="5.0" height="5.0" fill="#fff" fill-opacity="0.6" stroke="#000" stroke-width="1.2"/>
<rect x="563.5" y="287.9" width="5.0" height="5.0" fill="#fff" fill-opacity="0.6" stroke="#000" stroke-width="1.2"/>
<rect x="569.6" y="290.1" width="5.0" height="5.0" fill="#fff" fill-opacity="0.6" stroke="#000" stroke-width="1.2"/>
<rect x="574.5" y="288.3" width="5.0" height="5.0" fill="#fff" fill-opacity="0.6" stroke="#000" stroke-width="1.2"/>
<rect x="584.2" y="292.7" width="5.0" height="5.0" fill="#fff" fill-opacity="0.6" stroke="#000" stroke-width="1.2"/>
<rect x="528.0" y="284.5" width="5.0" height="5.0" fill="#fff" fill-opacity="0.6" stroke="#000" stroke-width="1.2"/>
<rect x="605.2" y="294.5" width="5.0" height="5.0" fill="#fff" fill-opacity="0.6" stroke="#000" stroke-width="1.2"/>
<rect x="605.2" y="300.5" width="5.0" height="5.0" fill="#fff" fill-opacity="0.6" stroke="#000" stroke-width="1.2"/>
<rect x="631.8" y="297.5" width="5.0" height="5.0" fill="#fff" fill-opacity="0.6" stroke="#000" stroke-width="1.2"/>
<rect x="631.8" y="302.5" width="5.0" height="5.0" fill="#fff" fill-opacity="0.6" stroke="#000" stroke-width="1.2"/>
<rect x="658.4" y="299.5" width="5.0" height="5.0" fill="#fff" fill-opacity="0.6" stroke="#000" stroke-width="1.2"/>
<rect x="658.4" y="303.5" width="5.0" height="5.0" fill="#fff" fill-opacity="0.6" stroke="#000" stroke-width="1.2"/>
<rect x="685.0" y="300.5" width="5.0" height="5.0" fill="#fff" fill-opacity="0.6" stroke="#000" stroke-width="1.2"/>
<rect x="685.0" y="304.0" width="5.0" height="5.0" fill="#fff" fill-opacity="0.6" stroke="#000" stroke-width="1.2"/>
<rect x="711.6" y="301.5" width="5.0" height="5.0" fill="#fff" fill-opacity="0.6" stroke="#000" stroke-width="1.2"/>
<rect x="711.6" y="305.5" width="5.0" height="5.0" fill="#fff" fill-opacity="0.6" stroke="#000" stroke-width="1.2"/>
<rect x="577.9" y="301.8" width="6.2" height="6.2" fill="#222"/>
<rect x="590.7" y="300.8" width="6.2" height="6.2" fill="#222"/>
<rect x="604.6" y="293.9" width="6.2" height="6.2" fill="#222"/>
<rect x="604.6" y="297.9" width="6.2" height="6.2" fill="#222"/>
<rect x="604.6" y="301.9" width="6.2" height="6.2" fill="#222"/>
<rect x="631.2" y="296.9" width="6.2" height="6.2" fill="#222"/>
<rect x="631.2" y="300.9" width="6.2" height="6.2" fill="#222"/>
<rect x="657.8" y="298.9" width="6.2" height="6.2" fill="#222"/>
<rect x="657.8" y="302.9" width="6.2" height="6.2" fill="#222"/>
<rect x="684.4" y="299.4" width="6.2" height="6.2" fill="#222"/>
<rect x="684.4" y="302.9" width="6.2" height="6.2" fill="#222"/>
<rect x="711.0" y="300.9" width="6.2" height="6.2" fill="#222"/>
<rect x="711.0" y="304.9" width="6.2" height="6.2" fill="#222"/>
<circle cx="535.6" cy="286.4" r="2.3" fill="#000"/>
<circle cx="540.4" cy="284.7" r="2.3" fill="#000"/>
<circle cx="543.5" cy="288.2" r="2.3" fill="#000"/>
<circle cx="546.6" cy="292.2" r="2.3" fill="#000"/>
<circle cx="551.4" cy="291.7" r="2.3" fill="#000"/>
<circle cx="558.0" cy="292.6" r="2.3" fill="#000"/>
<circle cx="558.0" cy="296.6" r="2.3" fill="#000"/>
<circle cx="530.7" cy="290.4" r="2.3" fill="#000"/>
<circle cx="532.0" cy="297.0" r="2.3" fill="#000"/>
<circle cx="534.7" cy="297.0" r="2.3" fill="#000"/>
<circle cx="537.8" cy="299.2" r="2.3" fill="#000"/>
<circle cx="540.9" cy="301.9" r="2.3" fill="#000"/>
<circle cx="547.9" cy="305.8" r="2.3" fill="#000"/>
<circle cx="554.5" cy="307.1" r="2.3" fill="#000"/>
<circle cx="560.7" cy="307.1" r="2.3" fill="#000"/>
<circle cx="566.0" cy="300.5" r="2.3" fill="#000"/>
<circle cx="566.0" cy="294.4" r="2.3" fill="#000"/>
<circle cx="572.1" cy="298.8" r="2.3" fill="#000"/>
<circle cx="577.4" cy="295.2" r="2.3" fill="#000"/>
<circle cx="586.7" cy="297.4" r="2.3" fill="#000"/>
<circle cx="532.0" cy="294.0" r="2.3" fill="#000"/>
<circle cx="537.0" cy="290.0" r="2.3" fill="#000"/>
<rect x="93.6" y="605.7" width="3.8" height="3.8" fill="#fff" fill-opacity="0.6" stroke="#000" stroke-width="1.2"/>
<rect x="95.6" y="605.7" width="3.8" height="3.8" fill="#fff" fill-opacity="0.6" stroke="#000" stroke-width="1.2"/>
<rect x="97.6" y="605.7" width="3.8" height="3.8" fill="#fff" fill-opacity="0.6" stroke="#000" stroke-width="1.2"/>
<rect x="104.1" y="591.6" width="3.8" height="3.8" fill="#fff" fill-opacity="0.6" stroke="#000" stroke-width="1.2"/>
<rect x="110.8" y="591.6" width="3.8" height="3.8" fill="#fff" fill-opacity="0.6" stroke="#000" stroke-width="1.2"/>
<rect x="113.6" y="591.6" width="3.8" height="3.8" fill="#fff" fill-opacity="0.6" stroke="#000" stroke-width="1.2"/>
<rect x="116.3" y="591.6" width="3.8" height="3.8" fill="#fff" fill-opacity="0.6" stroke="#000" stroke-width="1.2"/>
<rect x="102.5" y="583.7" width="3.8" height="3.8" fill="#fff" fill-opacity="0.6" stroke="#000" stroke-width="1.2"/>
<rect x="113.1" y="578.7" width="3.8" height="3.8" fill="#fff" fill-opacity="0.6" stroke="#000" stroke-width="1.2"/>
<rect x="118.3" y="576.1" width="3.8" height="3.8" fill="#fff" fill-opacity="0.6" stroke="#000" stroke-width="1.2"/>
<rect x="122.3" y="575.9" width="3.8" height="3.8" fill="#fff" fill-opacity="0.6" stroke="#000" stroke-width="1.2"/>
<rect x="122.6" y="573.1" width="3.8" height="3.8" fill="#fff" fill-opacity="0.6" stroke="#000" stroke-width="1.2"/>
<rect x="124.6" y="571.5" width="3.8" height="3.8" fill="#fff" fill-opacity="0.6" stroke="#000" stroke-width="1.2"/>
<rect x="123.7" y="567.9" width="3.8" height="3.8" fill="#fff" fill-opacity="0.6" stroke="#000" stroke-width="1.2"/>
<rect x="129.5" y="570.1" width="3.8" height="3.8" fill="#fff" fill-opacity="0.6" stroke="#000" stroke-width="1.2"/>
<rect x="128.7" y="565.0" width="3.8" height="3.8" fill="#fff" fill-opacity="0.6" stroke="#000" stroke-width="1.2"/>
<rect x="133.1" y="566.4" width="3.8" height="3.8" fill="#fff" fill-opacity="0.6" stroke="#000" stroke-width="1.2"/>
<rect x="134.6" y="564.2" width="3.8" height="3.8" fill="#fff" fill-opacity="0.6" stroke="#000" stroke-width="1.2"/>
<rect x="136.4" y="562.3" width="3.8" height="3.8" fill="#fff" fill-opacity="0.6" stroke="#000" stroke-width="1.2"/>
<rect x="138.7" y="561.9" width="3.8" height="3.8" fill="#fff" fill-opacity="0.6" stroke="#000" stroke-width="1.2"/>
<rect x="141.1" y="560.8" width="3.8" height="3.8" fill="#fff" fill-opacity="0.6" stroke="#000" stroke-width="1.2"/>
<rect x="144.2" y="560.3" width="3.8" height="3.8" fill="#fff" fill-opacity="0.6" stroke="#000" stroke-width="1.2"/>
<rect x="142.9" y="555.5" width="3.8" height="3.8" fill="#fff" fill-opacity="0.6" stroke="#000" stroke-width="1.2"/>
<rect x="145.9" y="554.9" width="3.8" height="3.8" fill="#fff" fill-opacity="0.6" stroke="#000" stroke-width="1.2"/>
<rect x="151.3" y="556.8" width="3.8" height="3.8" fill="#fff" fill-opacity="0.6" stroke="#000" stroke-width="1.2"/>
<rect x="152.3" y="554.2" width="3.8" height="3.8" fill="#fff" fill-opacity="0.6" stroke="#000" stroke-width="1.2"/>
<rect x="153.1" y="551.5" width="3.8" height="3.8" fill="#fff" fill-opacity="0.6" stroke="#000" stroke-width="1.2"/>
<rect x="154.9" y="549.7" width="3.8" height="3.8" fill="#fff" fill-opacity="0.6" stroke="#000" stroke-width="1.2"/>
<rect x="157.8" y="548.9" width="3.8" height="3.8" fill="#fff" fill-opacity="0.6" stroke="#000" stroke-width="1.2"/>
<rect x="160.5" y="548.1" width="3.8" height="3.8" fill="#fff" fill-opacity="0.6" stroke="#000" stroke-width="1.2"/>
<rect x="160.8" y="544.7" width="3.8" height="3.8" fill="#fff" fill-opacity="0.6" stroke="#000" stroke-width="1.2"/>
<rect x="166.6" y="547.5" width="3.8" height="3.8" fill="#fff" fill-opacity="0.6" stroke="#000" stroke-width="1.2"/>
<rect x="167.8" y="545.0" width="3.8" height="3.8" fill="#fff" fill-opacity="0.6" stroke="#000" stroke-width="1.2"/>
<rect x="168.7" y="542.1" width="3.8" height="3.8" fill="#fff" fill-opacity="0.6" stroke="#000" stroke-width="1.2"/>
<rect x="168.9" y="538.5" width="3.8" height="3.8" fill="#fff" fill-opacity="0.6" stroke="#000" stroke-width="1.2"/>
<rect x="170.9" y="537.1" width="3.8" height="3.8" fill="#fff" fill-opacity="0.6" stroke="#000" stroke-width="1.2"/>
<rect x="175.7" y="538.7" width="3.8" height="3.8" fill="#fff" fill-opacity="0.6" stroke="#000" stroke-width="1.2"/>
<rect x="180.5" y="538.8" width="3.8" height="3.8" fill="#fff" fill-opacity="0.6" stroke="#000" stroke-width="1.2"/>
<rect x="182.9" y="538.0" width="3.8" height="3.8" fill="#fff" fill-opacity="0.6" stroke="#000" stroke-width="1.2"/>
<rect x="184.3" y="536.1" width="3.8" height="3.8" fill="#fff" fill-opacity="0.6" stroke="#000" stroke-width="1.2"/>
<rect x="183.1" y="531.4" width="3.8" height="3.8" fill="#fff" fill-opacity="0.6" stroke="#000" stroke-width="1.2"/>
<rect x="188.6" y="533.8" width="3.8" height="3.8" fill="#fff" fill-opacity="0.6" stroke="#000" stroke-width="1.2"/>
<rect x="190.1" y="532.1" width="3.8" height="3.8" fill="#fff" fill-opacity="0.6" stroke="#000" stroke-width="1.2"/>
<rect x="190.0" y="528.6" width="3.8" height="3.8" fill="#fff" fill-opacity="0.6" stroke="#000" stroke-width="1.2"/>
<rect x="192.0" y="527.3" width="3.8" height="3.8" fill="#fff" fill-opacity="0.6" stroke="#000" stroke-width="1.2"/>
<rect x="191.5" y="523.4" width="3.8" height="3.8" fill="#fff" fill-opacity="0.6" stroke="#000" stroke-width="1.2"/>
<rect x="194.3" y="522.9" width="3.8" height="3.8" fill="#fff" fill-opacity="0.6" stroke="#000" stroke-width="1.2"/>
<rect x="119.2" y="565.7" width="3.8" height="3.8" fill="#fff" fill-opacity="0.6" stroke="#000" stroke-width="1.2"/>
<rect x="131.4" y="562.0" width="3.8" height="3.8" fill="#fff" fill-opacity="0.6" stroke="#000" stroke-width="1.2"/>
<rect x="143.7" y="551.4" width="3.8" height="3.8" fill="#fff" fill-opacity="0.6" stroke="#000" stroke-width="1.2"/>
<rect x="150.3" y="548.1" width="3.8" height="3.8" fill="#fff" fill-opacity="0.6" stroke="#000" stroke-width="1.2"/>
<rect x="159.2" y="546.4" width="3.8" height="3.8" fill="#fff" fill-opacity="0.6" stroke="#000" stroke-width="1.2"/>
<rect x="165.9" y="538.1" width="3.8" height="3.8" fill="#fff" fill-opacity="0.6" stroke="#000" stroke-width="1.2"/>
<rect x="170.3" y="537.0" width="3.8" height="3.8" fill="#fff" fill-opacity="0.6" stroke="#000" stroke-width="1.2"/>
<rect x="175.9" y="534.8" width="3.8" height="3.8" fill="#fff" fill-opacity="0.6" stroke="#000" stroke-width="1.2"/>
<rect x="190.6" y="520.9" width="3.8" height="3.8" fill="#fff" fill-opacity="0.6" stroke="#000" stroke-width="1.2"/>
<rect x="194.6" y="520.9" width="3.8" height="3.8" fill="#fff" fill-opacity="0.6" stroke="#000" stroke-width="1.2"/>
<rect x="166.1" y="536.3" width="3.8" height="3.8" fill="#fff" fill-opacity="0.6" stroke="#000" stroke-width="1.2"/>
<rect x="170.1" y="536.3" width="3.8" height="3.8" fill="#fff" fill-opacity="0.6" stroke="#000" stroke-width="1.2"/>
<rect x="165.9" y="551.4" width="3.8" height="3.8" fill="#fff" fill-opacity="0.6" stroke="#000" stroke-width="1.2"/>
<rect x="127.0" y="567.0" width="3.8" height="3.8" fill="#fff" fill-opacity="0.6" stroke="#000" stroke-width="1.2"/>
<rect x="132.0" y="578.1" width="3.8" height="3.8" fill="#fff" fill-opacity="0.6" stroke="#000" stroke-width="1.2"/>
<rect x="141.4" y="578.1" width="3.8" height="3.8" fill="#fff" fill-opacity="0.6" stroke="#000" stroke-width="1.2"/>
<rect x="152.0" y="564.8" width="3.8" height="3.8" fill="#fff" fill-opacity="0.6" stroke="#000" stroke-width="1.2"/>
<rect x="163.1" y="564.8" width="3.8" height="3.8" fill="#fff" fill-opacity="0.6" stroke="#000" stroke-width="1.2"/>
<circle cx="95.5" cy="608.0" r="2.3" fill="#000"/>
<circle cx="97.5" cy="608.0" r="2.3" fill="#000"/>
<circle cx="99.5" cy="608.0" r="2.3" fill="#000"/>
<circle cx="106.0" cy="594.0" r="2.3" fill="#000"/>
<circle cx="112.7" cy="594.3" r="2.3" fill="#000"/>
<circle cx="115.5" cy="594.3" r="2.3" fill="#000"/>
<circle cx="118.2" cy="594.3" r="2.3" fill="#000"/>
<circle cx="104.4" cy="586.5" r="2.3" fill="#000"/>
<circle cx="115.0" cy="586.1" r="2.3" fill="#000"/>
<circle cx="123.1" cy="580.0" r="2.3" fill="#000"/>
<circle cx="122.1" cy="576.3" r="2.3" fill="#000"/>
<circle cx="124.3" cy="574.9" r="2.3" fill="#000"/>
<circle cx="127.1" cy="573.8" r="2.3" fill="#000"/>
<circle cx="125.4" cy="569.6" r="2.3" fill="#000"/>
<circle cx="131.4" cy="571.9" r="2.3" fill="#000"/>
<circle cx="130.7" cy="567.0" r="2.3" fill="#000"/>
<circle cx="134.7" cy="567.9" r="2.3" fill="#000"/>
<circle cx="135.4" cy="564.7" r="2.3" fill="#000"/>
<circle cx="138.3" cy="564.2" r="2.3" fill="#000"/>
<circle cx="142.1" cy="565.3" r="2.3" fill="#000"/>
<circle cx="144.2" cy="563.8" r="2.3" fill="#000"/>
<circle cx="143.3" cy="559.4" r="2.3" fill="#000"/>
<circle cx="148.9" cy="561.4" r="2.3" fill="#000"/>
<circle cx="147.7" cy="556.7" r="2.3" fill="#000"/>
<circle cx="150.6" cy="556.1" r="2.3" fill="#000"/>
<circle cx="152.4" cy="554.3" r="2.3" fill="#000"/>
<circle cx="152.6" cy="550.9" r="2.3" fill="#000"/>
<circle cx="157.9" cy="552.7" r="2.3" fill="#000"/>
<circle cx="159.1" cy="550.1" r="2.3" fill="#000"/>
<circle cx="161.2" cy="548.7" r="2.3" fill="#000"/>
<circle cx="164.3" cy="548.3" r="2.3" fill="#000"/>
<circle cx="168.0" cy="548.7" r="2.3" fill="#000"/>
<circle cx="167.2" cy="544.0" r="2.3" fill="#000"/>
<circle cx="169.4" cy="542.7" r="2.3" fill="#000"/>
<circle cx="170.5" cy="540.1" r="2.3" fill="#000"/>
<circle cx="176.1" cy="542.7" r="2.3" fill="#000"/>
<circle cx="177.5" cy="540.4" r="2.3" fill="#000"/>
<circle cx="182.8" cy="541.3" r="2.3" fill="#000"/>
<circle cx="185.4" cy="540.5" r="2.3" fill="#000"/>
<circle cx="187.0" cy="538.8" r="2.3" fill="#000"/>
<circle cx="186.8" cy="535.2" r="2.3" fill="#000"/>
<circle cx="189.3" cy="534.5" r="2.3" fill="#000"/>
<circle cx="188.8" cy="530.5" r="2.3" fill="#000"/>
<circle cx="191.0" cy="529.5" r="2.3" fill="#000"/>
<circle cx="194.1" cy="529.3" r="2.3" fill="#000"/>
<circle cx="194.3" cy="526.2" r="2.3" fill="#000"/>
<circle cx="198.9" cy="527.6" r="2.3" fill="#000"/>
<circle cx="133.9" cy="577.8" r="2.3" fill="#000"/>
<circle cx="143.3" cy="577.5" r="2.3" fill="#000"/>
<circle cx="153.9" cy="564.2" r="2.3" fill="#000"/>
<circle cx="165.0" cy="564.2" r="2.3" fill="#000"/>
<circle cx="161.1" cy="551.7" r="2.3" fill="#000"/>
<circle cx="184.4" cy="537.8" r="2.3" fill="#000"/>
<circle cx="145.6" cy="566.7" r="2.3" fill="#000"/>
<circle cx="141.5" cy="561.8" r="2.3" fill="#000"/>
<circle cx="145.8" cy="558.8" r="2.3" fill="#000"/>
<circle cx="150.9" cy="556.7" r="2.3" fill="#000"/>
<circle cx="156.0" cy="554.7" r="2.3" fill="#000"/>
<circle cx="161.1" cy="549.1" r="2.3" fill="#000"/>
<circle cx="165.7" cy="546.6" r="2.3" fill="#000"/>
<circle cx="170.1" cy="543.8" r="2.3" fill="#000"/>
<circle cx="176.8" cy="543.8" r="2.3" fill="#000"/>
<circle cx="124.9" cy="577.9" r="2.3" fill="#000"/>
<circle cx="130.4" cy="573.5" r="2.3" fill="#000"/>
<circle cx="136.4" cy="569.5" r="2.3" fill="#000"/>
<rect x="289.6" y="545.6" width="3.8" height="3.8" fill="#fff" fill-opacity="0.6" stroke="#000" stroke-width="1.2"/>
<rect x="290.2" y="549.1" width="3.8" height="3.8" fill="#fff" fill-opacity="0.6" stroke="#000" stroke-width="1.2"/>
<rect x="292.0" y="546.1" width="3.8" height="3.8" fill="#fff" fill-opacity="0.6" stroke="#000" stroke-width="1.2"/>
<rect x="292.6" y="549.6" width="3.8" height="3.8" fill="#fff" fill-opacity="0.6" stroke="#000" stroke-width="1.2"/>
<rect x="294.4" y="546.7" width="3.8" height="3.8" fill="#fff" fill-opacity="0.6" stroke="#000" stroke-width="1.2"/>
<rect x="295.0" y="550.2" width="3.8" height="3.8" fill="#fff" fill-opacity="0.6" stroke="#000" stroke-width="1.2"/>
<rect x="296.8" y="547.2" width="3.8" height="3.8" fill="#fff" fill-opacity="0.6" stroke="#000" stroke-width="1.2"/>
<rect x="297.4" y="550.8" width="3.8" height="3.8" fill="#fff" fill-opacity="0.6" stroke="#000" stroke-width="1.2"/>
<rect x="299.2" y="547.8" width="3.8" height="3.8" fill="#fff" fill-opacity="0.6" stroke="#000" stroke-width="1.2"/>
<rect x="299.8" y="551.3" width="3.8" height="3.8" fill="#fff" fill-opacity="0.6" stroke="#000" stroke-width="1.2"/>
<rect x="301.6" y="548.4" width="3.8" height="3.8" fill="#fff" fill-opacity="0.6" stroke="#000" stroke-width="1.2"/>
<rect x="302.2" y="551.9" width="3.8" height="3.8" fill="#fff" fill-opacity="0.6" stroke="#000" stroke-width="1.2"/>
<rect x="304.0" y="548.9" width="3.8" height="3.8" fill="#fff" fill-opacity="0.6" stroke="#000" stroke-width="1.2"/>
<rect x="304.6" y="552.4" width="3.8" height="3.8" fill="#fff" fill-opacity="0.6" stroke="#000" stroke-width="1.2"/>
<rect x="306.4" y="549.5" width="3.8" height="3.8" fill="#fff" fill-opacity="0.6" stroke="#000" stroke-width="1.2"/>
<rect x="307.0" y="553.0" width="3.8" height="3.8" fill="#fff" fill-opacity="0.6" stroke="#000" stroke-width="1.2"/>
<rect x="308.8" y="550.0" width="3.8" height="3.8" fill="#fff" fill-opacity="0.6" stroke="#000" stroke-width="1.2"/>
<rect x="309.4" y="553.5" width="3.8" height="3.8" fill="#fff" fill-opacity="0.6" stroke="#000" stroke-width="1.2"/>
<rect x="311.2" y="550.6" width="3.8" height="3.8" fill="#fff" fill-opacity="0.6" stroke="#000" stroke-width="1.2"/>
<rect x="311.8" y="554.1" width="3.8" height="3.8" fill="#fff" fill-opacity="0.6" stroke="#000" stroke-width="1.2"/>
<rect x="313.6" y="551.1" width="3.8" height="3.8" fill="#fff" fill-opacity="0.6" stroke="#000" stroke-width="1.2"/>
<rect x="314.2" y="554.6" width="3.8" height="3.8" fill="#fff" fill-opacity="0.6" stroke="#000" stroke-width="1.2"/>
<rect x="316.0" y="551.6" width="3.8" height="3.8" fill="#fff" fill-opacity="0.6" stroke="#000" stroke-width="1.2"/>
<rect x="316.6" y="555.1" width="3.8" height="3.8" fill="#fff" fill-opacity="0.6" stroke="#000" stroke-width="1.2"/>
<rect x="318.4" y="552.2" width="3.8" height="3.8" fill="#fff" fill-opacity="0.6" stroke="#000" stroke-width="1.2"/>
<rect x="319.0" y="555.7" width="3.8" height="3.8" fill="#fff" fill-opacity="0.6" stroke="#000" stroke-width="1.2"/>
<rect x="320.8" y="552.8" width="3.8" height="3.8" fill="#fff" fill-opacity="0.6" stroke="#000" stroke-width="1.2"/>
<rect x="321.4" y="556.2" width="3.8" height="3.8" fill="#fff" fill-opacity="0.6" stroke="#000" stroke-width="1.2"/>
<rect x="323.2" y="553.3" width="3.8" height="3.8" fill="#fff" fill-opacity="0.6" stroke="#000" stroke-width="1.2"/>
<rect x="323.8" y="556.8" width="3.8" height="3.8" fill="#fff" fill-opacity="0.6" stroke="#000" stroke-width="1.2"/>
<rect x="325.6" y="553.9" width="3.8" height="3.8" fill="#fff" fill-opacity="0.6" stroke="#000" stroke-width="1.2"/>
<rect x="326.2" y="557.4" width="3.8" height="3.8" fill="#fff" fill-opacity="0.6" stroke="#000" stroke-width="1.2"/>
<rect x="308.5" y="544.8" width="3.8" height="3.8" fill="#fff" fill-opacity="0.6" stroke="#000" stroke-width="1.2"/>
<rect x="312.4" y="549.2" width="3.8" height="3.8" fill="#fff" fill-opacity="0.6" stroke="#000" stroke-width="1.2"/>
<rect x="323.5" y="550.9" width="3.8" height="3.8" fill="#fff" fill-opacity="0.6" stroke="#000" stroke-width="1.2"/>
<rect x="329.7" y="550.3" width="3.8" height="3.8" fill="#fff" fill-opacity="0.6" stroke="#000" stroke-width="1.2"/>
<rect x="330.8" y="553.7" width="3.8" height="3.8" fill="#fff" fill-opacity="0.6" stroke="#000" stroke-width="1.2"/>
<rect x="335.8" y="553.7" width="3.8" height="3.8" fill="#fff" fill-opacity="0.6" stroke="#000" stroke-width="1.2"/>
<rect x="339.7" y="559.8" width="3.8" height="3.8" fill="#fff" fill-opacity="0.6" stroke="#000" stroke-width="1.2"/>
<rect x="298.5" y="557.0" width="3.8" height="3.8" fill="#fff" fill-opacity="0.6" stroke="#000" stroke-width="1.2"/>
<rect x="309.1" y="561.4" width="3.8" height="3.8" fill="#fff" fill-opacity="0.6" stroke="#000" stroke-width="1.2"/>
<rect x="309.1" y="572.0" width="3.8" height="3.8" fill="#fff" fill-opacity="0.6" stroke="#000" stroke-width="1.2"/>
<rect x="331.9" y="569.2" width="3.8" height="3.8" fill="#fff" fill-opacity="0.6" stroke="#000" stroke-width="1.2"/>
<rect x="309.7" y="555.3" width="3.8" height="3.8" fill="#fff" fill-opacity="0.6" stroke="#000" stroke-width="1.2"/>
<rect x="354.8" y="562.0" width="3.8" height="3.8" fill="#fff" fill-opacity="0.6" stroke="#000" stroke-width="1.2"/>
<rect x="359.8" y="563.7" width="3.8" height="3.8" fill="#fff" fill-opacity="0.6" stroke="#000" stroke-width="1.2"/>
<rect x="364.8" y="563.7" width="3.8" height="3.8" fill="#fff" fill-opacity="0.6" stroke="#000" stroke-width="1.2"/>
<rect x="370.3" y="560.9" width="3.8" height="3.8" fill="#fff" fill-opacity="0.6" stroke="#000" stroke-width="1.2"/>
<rect x="373.1" y="565.3" width="3.8" height="3.8" fill="#fff" fill-opacity="0.6" stroke="#000" stroke-width="1.2"/>
<rect x="383.7" y="568.1" width="3.8" height="3.8" fill="#fff" fill-opacity="0.6" stroke="#000" stroke-width="1.2"/>
<rect x="383.7" y="571.8" width="3.8" height="3.8" fill="#fff" fill-opacity="0.6" stroke="#000" stroke-width="1.2"/>
<rect x="353.7" y="571.4" width="3.8" height="3.8" fill="#fff" fill-opacity="0.6" stroke="#000" stroke-width="1.2"/>
<rect x="391.4" y="581.4" width="3.8" height="3.8" fill="#fff" fill-opacity="0.6" stroke="#000" stroke-width="1.2"/>
<rect x="422.5" y="582.5" width="3.8" height="3.8" fill="#fff" fill-opacity="0.6" stroke="#000" stroke-width="1.2"/>
<rect x="430.9" y="577.5" width="3.8" height="3.8" fill="#fff" fill-opacity="0.6" stroke="#000" stroke-width="1.2"/>
<rect x="441.4" y="583.7" width="3.8" height="3.8" fill="#fff" fill-opacity="0.6" stroke="#000" stroke-width="1.2"/>
<rect x="458.7" y="587.5" width="3.8" height="3.8" fill="#fff" fill-opacity="0.6" stroke="#000" stroke-width="1.2"/>
<rect x="479.8" y="579.8" width="3.8" height="3.8" fill="#fff" fill-opacity="0.6" stroke="#000" stroke-width="1.2"/>
<rect x="479.8" y="589.5" width="3.8" height="3.8" fill="#fff" fill-opacity="0.6" stroke="#000" stroke-width="1.2"/>
<circle cx="292.7" cy="549.5" r="2.3" fill="#000"/>
<circle cx="295.1" cy="550.1" r="2.3" fill="#000"/>
<circle cx="297.5" cy="550.7" r="2.3" fill="#000"/>
<circle cx="299.9" cy="551.3" r="2.3" fill="#000"/>
<circle cx="302.3" cy="551.9" r="2.3" fill="#000"/>
<circle cx="304.7" cy="552.5" r="2.3" fill="#000"/>
<circle cx="307.1" cy="553.1" r="2.3" fill="#000"/>
<circle cx="309.5" cy="553.7" r="2.3" fill="#000"/>
<circle cx="311.9" cy="554.3" r="2.3" fill="#000"/>
<circle cx="314.3" cy="554.9" r="2.3" fill="#000"/>
<circle cx="316.7" cy="555.5" r="2.3" fill="#000"/>
<circle cx="319.1" cy="556.1" r="2.3" fill="#000"/>
<circle cx="321.5" cy="556.7" r="2.3" fill="#000"/>
<circle cx="323.9" cy="557.3" r="2.3" fill="#000"/>
<circle cx="326.3" cy="557.9" r="2.3" fill="#000"/>
<circle cx="328.7" cy="558.5" r="2.3" fill="#000"/>
<circle cx="301.6" cy="558.3" r="2.3" fill="#000"/>
<circle cx="314.3" cy="562.2" r="2.3" fill="#000"/>
<circle cx="314.3" cy="572.8" r="2.3" fill="#000"/>
<circle cx="336.0" cy="563.3" r="2.3" fill="#000"/>
<circle cx="334.9" cy="571.1" r="2.3" fill="#000"/>
<circle cx="327.7" cy="559.4" r="2.3" fill="#000"/>
<circle cx="321.6" cy="557.8" r="2.3" fill="#000"/>
<circle cx="318.8" cy="555.6" r="2.3" fill="#000"/>
<circle cx="347.1" cy="566.1" r="2.3" fill="#000"/>
<circle cx="343.8" cy="570.0" r="2.3" fill="#000"/>
<circle cx="354.3" cy="567.8" r="2.3" fill="#000"/>
<circle cx="353.2" cy="573.9" r="2.3" fill="#000"/>
<circle cx="359.3" cy="571.1" r="2.3" fill="#000"/>
<circle cx="364.9" cy="575.6" r="2.3" fill="#000"/>
<circle cx="363.2" cy="579.4" r="2.3" fill="#000"/>
<circle cx="355.6" cy="567.2" r="2.3" fill="#000"/>
<circle cx="359.2" cy="571.3" r="2.3" fill="#000"/>
<circle cx="365.0" cy="575.6" r="2.3" fill="#000"/>
<circle cx="363.0" cy="579.4" r="2.3" fill="#000"/>
<circle cx="382.0" cy="586.4" r="2.3" fill="#000"/>
<circle cx="397.6" cy="588.7" r="2.3" fill="#000"/>
<circle cx="404.4" cy="589.4" r="2.3" fill="#000"/>
<circle cx="417.6" cy="592.0" r="2.3" fill="#000"/>
<circle cx="428.6" cy="598.0" r="2.3" fill="#000"/>
<circle cx="436.1" cy="593.3" r="2.3" fill="#000"/>
<circle cx="440.9" cy="602.0" r="2.3" fill="#000"/>
<rect x="534.4" y="543.1" width="3.8" height="3.8" fill="#fff" fill-opacity="0.6" stroke="#000" stroke-width="1.2"/>
<rect x="534.4" y="548.1" width="3.8" height="3.8" fill="#fff" fill-opacity="0.6" stroke="#000" stroke-width="1.2"/>
<rect x="534.4" y="560.3" width="3.8" height="3.8" fill="#fff" fill-opacity="0.6" stroke="#000" stroke-width="1.2"/>
<rect x="538.3" y="544.1" width="3.8" height="3.8" fill="#fff" fill-opacity="0.6" stroke="#000" stroke-width="1.2"/>
<rect x="538.3" y="549.1" width="3.8" height="3.8" fill="#fff" fill-opacity="0.6" stroke="#000" stroke-width="1.2"/>
<rect x="538.3" y="563.1" width="3.8" height="3.8" fill="#fff" fill-opacity="0.6" stroke="#000" stroke-width="1.2"/>
<rect x="538.3" y="580.1" width="3.8" height="3.8" fill="#fff" fill-opacity="0.6" stroke="#000" stroke-width="1.2"/>
<rect x="546.2" y="546.1" width="3.8" height="3.8" fill="#fff" fill-opacity="0.6" stroke="#000" stroke-width="1.2"/>
<rect x="546.2" y="552.1" width="3.8" height="3.8" fill="#fff" fill-opacity="0.6" stroke="#000" stroke-width="1.2"/>
<rect x="546.2" y="572.5" width="3.8" height="3.8" fill="#fff" fill-opacity="0.6" stroke="#000" stroke-width="1.2"/>
<rect x="546.2" y="583.1" width="3.8" height="3.8" fill="#fff" fill-opacity="0.6" stroke="#000" stroke-width="1.2"/>
<rect x="554.0" y="548.1" width="3.8" height="3.8" fill="#fff" fill-opacity="0.6" stroke="#000" stroke-width="1.2"/>
<rect x="554.0" y="553.1" width="3.8" height="3.8" fill="#fff" fill-opacity="0.6" stroke="#000" stroke-width="1.2"/>
<rect x="554.0" y="569.3" width="3.8" height="3.8" fill="#fff" fill-opacity="0.6" stroke="#000" stroke-width="1.2"/>
<rect x="554.0" y="594.1" width="3.8" height="3.8" fill="#fff" fill-opacity="0.6" stroke="#000" stroke-width="1.2"/>
<rect x="561.8" y="546.4" width="3.8" height="3.8" fill="#fff" fill-opacity="0.6" stroke="#000" stroke-width="1.2"/>
<rect x="561.8" y="551.1" width="3.8" height="3.8" fill="#fff" fill-opacity="0.6" stroke="#000" stroke-width="1.2"/>
<rect x="561.8" y="565.1" width="3.8" height="3.8" fill="#fff" fill-opacity="0.6" stroke="#000" stroke-width="1.2"/>
<rect x="561.8" y="591.4" width="3.8" height="3.8" fill="#fff" fill-opacity="0.6" stroke="#000" stroke-width="1.2"/>
<rect x="569.7" y="544.1" width="3.8" height="3.8" fill="#fff" fill-opacity="0.6" stroke="#000" stroke-width="1.2"/>
<rect x="569.7" y="551.1" width="3.8" height="3.8" fill="#fff" fill-opacity="0.6" stroke="#000" stroke-width="1.2"/>
<rect x="569.7" y="563.1" width="3.8" height="3.8" fill="#fff" fill-opacity="0.6" stroke="#000" stroke-width="1.2"/>
<rect x="569.7" y="586.4" width="3.8" height="3.8" fill="#fff" fill-opacity="0.6" stroke="#000" stroke-width="1.2"/>
<rect x="577.5" y="544.1" width="3.8" height="3.8" fill="#fff" fill-opacity="0.6" stroke="#000" stroke-width="1.2"/>
<rect x="577.5" y="550.1" width="3.8" height="3.8" fill="#fff" fill-opacity="0.6" stroke="#000" stroke-width="1.2"/>
<rect x="577.5" y="561.1" width="3.8" height="3.8" fill="#fff" fill-opacity="0.6" stroke="#000" stroke-width="1.2"/>
<rect x="577.5" y="585.3" width="3.8" height="3.8" fill="#fff" fill-opacity="0.6" stroke="#000" stroke-width="1.2"/>
<rect x="593.2" y="544.1" width="3.8" height="3.8" fill="#fff" fill-opacity="0.6" stroke="#000" stroke-width="1.2"/>
<rect x="593.2" y="548.7" width="3.8" height="3.8" fill="#fff" fill-opacity="0.6" stroke="#000" stroke-width="1.2"/>
<rect x="593.2" y="558.7" width="3.8" height="3.8" fill="#fff" fill-opacity="0.6" stroke="#000" stroke-width="1.2"/>
<rect x="593.2" y="585.3" width="3.8" height="3.8" fill="#fff" fill-opacity="0.6" stroke="#000" stroke-width="1.2"/>
<rect x="529.9" y="542.5" width="5.0" height="5.0" fill="#222"/>
<rect x="529.9" y="545.0" width="5.0" height="5.0" fill="#222"/>
<rect x="529.9" y="547.5" width="5.0" height="5.0" fill="#222"/>
<rect x="529.9" y="554.7" width="5.0" height="5.0" fill="#222"/>
<rect x="529.9" y="572.5" width="5.0" height="5.0" fill="#222"/>
<rect x="533.8" y="542.5" width="5.0" height="5.0" fill="#222"/>
<rect x="624.6" y="542.0" width="5.0" height="5.0" fill="#222"/>
<rect x="624.6" y="546.0" width="5.0" height="5.0" fill="#222"/>
<rect x="624.6" y="553.8" width="5.0" height="5.0" fill="#222"/>
<rect x="624.6" y="571.8" width="5.0" height="5.0" fill="#222"/>
<rect x="655.8" y="542.0" width="5.0" height="5.0" fill="#222"/>
<rect x="655.8" y="545.0" width="5.0" height="5.0" fill="#222"/>
<rect x="655.8" y="552.9" width="5.0" height="5.0" fill="#222"/>
<rect x="655.8" y="569.9" width="5.0" height="5.0" fill="#222"/>
<rect x="719.0" y="542.0" width="5.0" height="5.0" fill="#222"/>
<rect x="719.0" y="545.0" width="5.0" height="5.0" fill="#222"/>
<rect x="719.0" y="549.5" width="5.0" height="5.0" fill="#222"/>
<rect x="719.0" y="559.9" width="5.0" height="5.0" fill="#222"/>
<circle cx="536.3" cy="552.0" r="2.3" fill="#000"/>
<circle cx="536.3" cy="568.0" r="2.3" fill="#000"/>
<circle cx="540.2" cy="553.0" r="2.3" fill="#000"/>
<circle cx="540.2" cy="571.0" r="2.3" fill="#000"/>
<circle cx="540.2" cy="592.8" r="2.3" fill="#000"/>
<circle cx="548.1" cy="557.0" r="2.3" fill="#000"/>
<circle cx="548.1" cy="581.7" r="2.3" fill="#000"/>
<circle cx="548.1" cy="598.9" r="2.3" fill="#000"/>
<circle cx="555.9" cy="552.0" r="2.3" fill="#000"/>
<circle cx="555.9" cy="558.0" r="2.3" fill="#000"/>
<circle cx="555.9" cy="577.2" r="2.3" fill="#000"/>
<circle cx="555.9" cy="608.9" r="2.3" fill="#000"/>
<circle cx="563.7" cy="550.0" r="2.3" fill="#000"/>
<circle cx="563.7" cy="556.0" r="2.3" fill="#000"/>
<circle cx="563.7" cy="572.8" r="2.3" fill="#000"/>
<circle cx="563.7" cy="603.9" r="2.3" fill="#000"/>
<circle cx="571.6" cy="548.0" r="2.3" fill="#000"/>
<circle cx="571.6" cy="556.0" r="2.3" fill="#000"/>
<circle cx="571.6" cy="570.0" r="2.3" fill="#000"/>
<circle cx="571.6" cy="596.7" r="2.3" fill="#000"/>
<circle cx="579.4" cy="548.0" r="2.3" fill="#000"/>
<circle cx="579.4" cy="555.0" r="2.3" fill="#000"/>
<circle cx="579.4" cy="567.0" r="2.3" fill="#000"/>
<circle cx="579.4" cy="593.9" r="2.3" fill="#000"/>
<circle cx="595.1" cy="548.3" r="2.3" fill="#000"/>
<circle cx="595.1" cy="553.0" r="2.3" fill="#000"/>
<circle cx="595.1" cy="562.8" r="2.3" fill="#000"/>
<circle cx="595.1" cy="590.6" r="2.3" fill="#000"/>
<rect x="93.7" y="818.1" width="3.8" height="3.8" fill="#fff" fill-opacity="0.6" stroke="#000" stroke-width="1.2"/>
<rect x="98.1" y="818.1" width="3.8" height="3.8" fill="#fff" fill-opacity="0.6" stroke="#000" stroke-width="1.2"/>
<rect x="102.0" y="800.9" width="3.8" height="3.8" fill="#fff" fill-opacity="0.6" stroke="#000" stroke-width="1.2"/>
<rect x="104.2" y="807.0" width="3.8" height="3.8" fill="#fff" fill-opacity="0.6" stroke="#000" stroke-width="1.2"/>
<rect x="112.5" y="799.8" width="3.8" height="3.8" fill="#fff" fill-opacity="0.6" stroke="#000" stroke-width="1.2"/>
<rect x="110.9" y="804.2" width="3.8" height="3.8" fill="#fff" fill-opacity="0.6" stroke="#000" stroke-width="1.2"/>
<rect x="115.9" y="804.2" width="3.8" height="3.8" fill="#fff" fill-opacity="0.6" stroke="#000" stroke-width="1.2"/>
<rect x="108.9" y="804.6" width="3.8" height="3.8" fill="#fff" fill-opacity="0.6" stroke="#000" stroke-width="1.2"/>
<rect x="118.1" y="804.6" width="3.8" height="3.8" fill="#fff" fill-opacity="0.6" stroke="#000" stroke-width="1.2"/>
<rect x="118.8" y="797.2" width="3.8" height="3.8" fill="#fff" fill-opacity="0.6" stroke="#000" stroke-width="1.2"/>
<rect x="122.2" y="798.1" width="3.8" height="3.8" fill="#fff" fill-opacity="0.6" stroke="#000" stroke-width="1.2"/>
<rect x="122.3" y="794.8" width="3.8" height="3.8" fill="#fff" fill-opacity="0.6" stroke="#000" stroke-width="1.2"/>
<rect x="122.8" y="792.0" width="3.8" height="3.8" fill="#fff" fill-opacity="0.6" stroke="#000" stroke-width="1.2"/>
<rect x="126.1" y="792.7" width="3.8" height="3.8" fill="#fff" fill-opacity="0.6" stroke="#000" stroke-width="1.2"/>
<rect x="125.7" y="788.9" width="3.8" height="3.8" fill="#fff" fill-opacity="0.6" stroke="#000" stroke-width="1.2"/>
<rect x="131.2" y="793.2" width="3.8" height="3.8" fill="#fff" fill-opacity="0.6" stroke="#000" stroke-width="1.2"/>
<rect x="134.0" y="792.1" width="3.8" height="3.8" fill="#fff" fill-opacity="0.6" stroke="#000" stroke-width="1.2"/>
<rect x="134.8" y="788.3" width="3.8" height="3.8" fill="#fff" fill-opacity="0.6" stroke="#000" stroke-width="1.2"/>
<rect x="119.2" y="786.8" width="3.8" height="3.8" fill="#fff" fill-opacity="0.6" stroke="#000" stroke-width="1.2"/>
<rect x="127.0" y="788.1" width="3.8" height="3.8" fill="#fff" fill-opacity="0.6" stroke="#000" stroke-width="1.2"/>
<rect x="132.0" y="785.9" width="3.8" height="3.8" fill="#fff" fill-opacity="0.6" stroke="#000" stroke-width="1.2"/>
<rect x="135.9" y="785.9" width="3.8" height="3.8" fill="#fff" fill-opacity="0.6" stroke="#000" stroke-width="1.2"/>
<rect x="138.7" y="783.9" width="3.8" height="3.8" fill="#fff" fill-opacity="0.6" stroke="#000" stroke-width="1.2"/>
<rect x="142.6" y="785.0" width="3.8" height="3.8" fill="#fff" fill-opacity="0.6" stroke="#000" stroke-width="1.2"/>
<rect x="141.6" y="780.6" width="3.8" height="3.8" fill="#fff" fill-opacity="0.6" stroke="#000" stroke-width="1.2"/>
<rect x="143.1" y="778.9" width="3.8" height="3.8" fill="#fff" fill-opacity="0.6" stroke="#000" stroke-width="1.2"/>
<rect x="147.8" y="781.0" width="3.8" height="3.8" fill="#fff" fill-opacity="0.6" stroke="#000" stroke-width="1.2"/>
<rect x="148.4" y="778.3" width="3.8" height="3.8" fill="#fff" fill-opacity="0.6" stroke="#000" stroke-width="1.2"/>
<rect x="148.9" y="775.5" width="3.8" height="3.8" fill="#fff" fill-opacity="0.6" stroke="#000" stroke-width="1.2"/>
<rect x="153.4" y="777.3" width="3.8" height="3.8" fill="#fff" fill-opacity="0.6" stroke="#000" stroke-width="1.2"/>
<rect x="150.7" y="770.9" width="3.8" height="3.8" fill="#fff" fill-opacity="0.6" stroke="#000" stroke-width="1.2"/>
<rect x="141.4" y="773.7" width="3.8" height="3.8" fill="#fff" fill-opacity="0.6" stroke="#000" stroke-width="1.2"/>
<rect x="150.3" y="772.5" width="3.8" height="3.8" fill="#fff" fill-opacity="0.6" stroke="#000" stroke-width="1.2"/>
<rect x="153.7" y="772.5" width="3.8" height="3.8" fill="#fff" fill-opacity="0.6" stroke="#000" stroke-width="1.2"/>
<rect x="139.8" y="780.9" width="3.8" height="3.8" fill="#fff" fill-opacity="0.6" stroke="#000" stroke-width="1.2"/>
<rect x="141.4" y="790.9" width="3.8" height="3.8" fill="#fff" fill-opacity="0.6" stroke="#000" stroke-width="1.2"/>
<rect x="156.9" y="770.3" width="3.8" height="3.8" fill="#fff" fill-opacity="0.6" stroke="#000" stroke-width="1.2"/>
<rect x="161.5" y="771.0" width="3.8" height="3.8" fill="#fff" fill-opacity="0.6" stroke="#000" stroke-width="1.2"/>
<rect x="161.2" y="767.4" width="3.8" height="3.8" fill="#fff" fill-opacity="0.6" stroke="#000" stroke-width="1.2"/>
<rect x="165.3" y="767.7" width="3.8" height="3.8" fill="#fff" fill-opacity="0.6" stroke="#000" stroke-width="1.2"/>
<rect x="164.8" y="763.8" width="3.8" height="3.8" fill="#fff" fill-opacity="0.6" stroke="#000" stroke-width="1.2"/>
<rect x="167.0" y="762.4" width="3.8" height="3.8" fill="#fff" fill-opacity="0.6" stroke="#000" stroke-width="1.2"/>
<rect x="167.3" y="759.2" width="3.8" height="3.8" fill="#fff" fill-opacity="0.6" stroke="#000" stroke-width="1.2"/>
<rect x="159.8" y="768.1" width="3.8" height="3.8" fill="#fff" fill-opacity="0.6" stroke="#000" stroke-width="1.2"/>
<rect x="163.1" y="777.5" width="3.8" height="3.8" fill="#fff" fill-opacity="0.6" stroke="#000" stroke-width="1.2"/>
<rect x="165.9" y="762.5" width="3.8" height="3.8" fill="#fff" fill-opacity="0.6" stroke="#000" stroke-width="1.2"/>
<rect x="173.0" y="767.5" width="3.8" height="3.8" fill="#fff" fill-opacity="0.6" stroke="#000" stroke-width="1.2"/>
<rect x="174.7" y="764.5" width="3.8" height="3.8" fill="#fff" fill-opacity="0.6" stroke="#000" stroke-width="1.2"/>
<rect x="178.1" y="764.0" width="3.8" height="3.8" fill="#fff" fill-opacity="0.6" stroke="#000" stroke-width="1.2"/>
<rect x="180.2" y="761.6" width="3.8" height="3.8" fill="#fff" fill-opacity="0.6" stroke="#000" stroke-width="1.2"/>
<rect x="182.6" y="759.7" width="3.8" height="3.8" fill="#fff" fill-opacity="0.6" stroke="#000" stroke-width="1.2"/>
<rect x="182.9" y="754.9" width="3.8" height="3.8" fill="#fff" fill-opacity="0.6" stroke="#000" stroke-width="1.2"/>
<rect x="187.1" y="755.4" width="3.8" height="3.8" fill="#fff" fill-opacity="0.6" stroke="#000" stroke-width="1.2"/>
<rect x="188.0" y="751.4" width="3.8" height="3.8" fill="#fff" fill-opacity="0.6" stroke="#000" stroke-width="1.2"/>
<rect x="192.6" y="752.5" width="3.8" height="3.8" fill="#fff" fill-opacity="0.6" stroke="#000" stroke-width="1.2"/>
<rect x="194.9" y="750.4" width="3.8" height="3.8" fill="#fff" fill-opacity="0.6" stroke="#000" stroke-width="1.2"/>
<rect x="169.7" y="760.6" width="3.8" height="3.8" fill="#fff" fill-opacity="0.6" stroke="#000" stroke-width="1.2"/>
<rect x="173.0" y="759.8" width="3.8" height="3.8" fill="#fff" fill-opacity="0.6" stroke="#000" stroke-width="1.2"/>
<rect x="176.2" y="759.4" width="3.8" height="3.8" fill="#fff" fill-opacity="0.6" stroke="#000" stroke-width="1.2"/>
<rect x="181.5" y="754.1" width="3.8" height="3.8" fill="#fff" fill-opacity="0.6" stroke="#000" stroke-width="1.2"/>
<rect x="185.2" y="750.1" width="3.8" height="3.8" fill="#fff" fill-opacity="0.6" stroke="#000" stroke-width="1.2"/>
<rect x="188.4" y="746.0" width="3.8" height="3.8" fill="#fff" fill-opacity="0.6" stroke="#000" stroke-width="1.2"/>
<rect x="191.7" y="745.6" width="3.8" height="3.8" fill="#fff" fill-opacity="0.6" stroke="#000" stroke-width="1.2"/>
<rect x="194.9" y="745.2" width="3.8" height="3.8" fill="#fff" fill-opacity="0.6" stroke="#000" stroke-width="1.2"/>
<circle cx="95.6" cy="821.5" r="2.3" fill="#000"/>
<circle cx="100.0" cy="821.5" r="2.3" fill="#000"/>
<circle cx="103.9" cy="807.2" r="2.3" fill="#000"/>
<circle cx="105.6" cy="812.2" r="2.3" fill="#000"/>
<circle cx="111.5" cy="808.3" r="2.3" fill="#000"/>
<circle cx="114.0" cy="808.5" r="2.3" fill="#000"/>
<circle cx="116.5" cy="808.5" r="2.3" fill="#000"/>
<circle cx="119.0" cy="808.3" r="2.3" fill="#000"/>
<circle cx="121.1" cy="799.6" r="2.3" fill="#000"/>
<circle cx="122.4" cy="797.8" r="2.3" fill="#000"/>
<circle cx="124.5" cy="797.1" r="2.3" fill="#000"/>
<circle cx="125.9" cy="795.4" r="2.3" fill="#000"/>
<circle cx="128.6" cy="795.4" r="2.3" fill="#000"/>
<circle cx="128.4" cy="791.7" r="2.3" fill="#000"/>
<circle cx="133.5" cy="795.7" r="2.3" fill="#000"/>
<circle cx="134.7" cy="792.3" r="2.3" fill="#000"/>
<circle cx="137.5" cy="791.4" r="2.3" fill="#000"/>
<circle cx="142.8" cy="788.4" r="2.3" fill="#000"/>
<circle cx="145.3" cy="787.9" r="2.3" fill="#000"/>
<circle cx="143.8" cy="782.8" r="2.3" fill="#000"/>
<circle cx="145.4" cy="781.3" r="2.3" fill="#000"/>
<circle cx="146.6" cy="779.3" r="2.3" fill="#000"/>
<circle cx="148.7" cy="778.3" r="2.3" fill="#000"/>
<circle cx="151.5" cy="778.2" r="2.3" fill="#000"/>
<circle cx="154.1" cy="777.8" r="2.3" fill="#000"/>
<circle cx="154.0" cy="774.4" r="2.3" fill="#000"/>
<circle cx="143.3" cy="794.5" r="2.3" fill="#000"/>
<circle cx="161.9" cy="775.0" r="2.3" fill="#000"/>
<circle cx="164.8" cy="774.3" r="2.3" fill="#000"/>
<circle cx="163.0" cy="769.2" r="2.3" fill="#000"/>
<circle cx="166.8" cy="769.3" r="2.3" fill="#000"/>
<circle cx="168.7" cy="767.5" r="2.3" fill="#000"/>
<circle cx="170.9" cy="766.1" r="2.3" fill="#000"/>
<circle cx="169.7" cy="761.6" r="2.3" fill="#000"/>
<circle cx="165.0" cy="781.5" r="2.3" fill="#000"/>
<circle cx="171.5" cy="764.7" r="2.3" fill="#000"/>
<circle cx="174.6" cy="763.6" r="2.3" fill="#000"/>
<circle cx="176.6" cy="761.1" r="2.3" fill="#000"/>
<circle cx="181.4" cy="762.6" r="2.3" fill="#000"/>
<circle cx="185.0" cy="762.3" r="2.3" fill="#000"/>
<circle cx="185.2" cy="757.3" r="2.3" fill="#000"/>
<circle cx="187.5" cy="755.2" r="2.3" fill="#000"/>
<circle cx="189.8" cy="753.2" r="2.3" fill="#000"/>
<circle cx="194.6" cy="754.5" r="2.3" fill="#000"/>
<circle cx="194.8" cy="749.6" r="2.3" fill="#000"/>
<circle cx="121.4" cy="797.9" r="2.3" fill="#000"/>
<circle cx="126.8" cy="798.8" r="2.3" fill="#000"/>
<circle cx="130.0" cy="796.3" r="2.3" fill="#000"/>
<circle cx="132.8" cy="793.2" r="2.3" fill="#000"/>
<circle cx="135.2" cy="789.4" r="2.3" fill="#000"/>
<circle cx="146.0" cy="791.3" r="2.3" fill="#000"/>
<circle cx="144.5" cy="783.7" r="2.3" fill="#000"/>
<circle cx="146.9" cy="780.2" r="2.3" fill="#000"/>
<circle cx="155.2" cy="783.1" r="2.3" fill="#000"/>
<circle cx="153.8" cy="775.6" r="2.3" fill="#000"/>
<circle cx="163.9" cy="776.6" r="2.3" fill="#000"/>
<circle cx="168.0" cy="772.3" r="2.3" fill="#000"/>
<circle cx="171.7" cy="767.8" r="2.3" fill="#000"/>
<circle cx="178.1" cy="768.2" r="2.3" fill="#000"/>
<circle cx="174.9" cy="767.4" r="2.3" fill="#000"/>
<circle cx="185.4" cy="760.9" r="2.3" fill="#000"/>
<circle cx="190.3" cy="755.2" r="2.3" fill="#000"/>
<circle cx="194.4" cy="754.4" r="2.3" fill="#000"/>
<circle cx="196.0" cy="753.6" r="2.3" fill="#000"/>
<circle cx="188.7" cy="752.8" r="2.3" fill="#000"/>
<rect x="289.1" y="783.6" width="3.8" height="3.8" fill="#fff" fill-opacity="0.6" stroke="#000" stroke-width="1.2"/>
<rect x="291.6" y="783.4" width="3.8" height="3.8" fill="#fff" fill-opacity="0.6" stroke="#000" stroke-width="1.2"/>
<rect x="294.1" y="783.1" width="3.8" height="3.8" fill="#fff" fill-opacity="0.6" stroke="#000" stroke-width="1.2"/>
<rect x="296.6" y="782.9" width="3.8" height="3.8" fill="#fff" fill-opacity="0.6" stroke="#000" stroke-width="1.2"/>
<rect x="299.1" y="782.6" width="3.8" height="3.8" fill="#fff" fill-opacity="0.6" stroke="#000" stroke-width="1.2"/>
<rect x="301.6" y="782.4" width="3.8" height="3.8" fill="#fff" fill-opacity="0.6" stroke="#000" stroke-width="1.2"/>
<rect x="304.1" y="782.1" width="3.8" height="3.8" fill="#fff" fill-opacity="0.6" stroke="#000" stroke-width="1.2"/>
<rect x="306.6" y="781.9" width="3.8" height="3.8" fill="#fff" fill-opacity="0.6" stroke="#000" stroke-width="1.2"/>
<rect x="309.1" y="781.6" width="3.8" height="3.8" fill="#fff" fill-opacity="0.6" stroke="#000" stroke-width="1.2"/>
<rect x="311.6" y="781.4" width="3.8" height="3.8" fill="#fff" fill-opacity="0.6" stroke="#000" stroke-width="1.2"/>
<rect x="314.1" y="781.1" width="3.8" height="3.8" fill="#fff" fill-opacity="0.6" stroke="#000" stroke-width="1.2"/>
<rect x="316.6" y="780.9" width="3.8" height="3.8" fill="#fff" fill-opacity="0.6" stroke="#000" stroke-width="1.2"/>
<rect x="319.1" y="780.6" width="3.8" height="3.8" fill="#fff" fill-opacity="0.6" stroke="#000" stroke-width="1.2"/>
<rect x="321.6" y="780.4" width="3.8" height="3.8" fill="#fff" fill-opacity="0.6" stroke="#000" stroke-width="1.2"/>
<rect x="324.1" y="780.1" width="3.8" height="3.8" fill="#fff" fill-opacity="0.6" stroke="#000" stroke-width="1.2"/>
<rect x="298.3" y="779.8" width="3.8" height="3.8" fill="#fff" fill-opacity="0.6" stroke="#000" stroke-width="1.2"/>
<rect x="310.0" y="775.3" width="3.8" height="3.8" fill="#fff" fill-opacity="0.6" stroke="#000" stroke-width="1.2"/>
<rect x="317.8" y="778.7" width="3.8" height="3.8" fill="#fff" fill-opacity="0.6" stroke="#000" stroke-width="1.2"/>
<rect x="322.2" y="776.4" width="3.8" height="3.8" fill="#fff" fill-opacity="0.6" stroke="#000" stroke-width="1.2"/>
<rect x="325.0" y="776.4" width="3.8" height="3.8" fill="#fff" fill-opacity="0.6" stroke="#000" stroke-width="1.2"/>
<rect x="327.8" y="775.9" width="3.8" height="3.8" fill="#fff" fill-opacity="0.6" stroke="#000" stroke-width="1.2"/>
<rect x="330.5" y="774.8" width="3.8" height="3.8" fill="#fff" fill-opacity="0.6" stroke="#000" stroke-width="1.2"/>
<rect x="332.8" y="769.8" width="3.8" height="3.8" fill="#fff" fill-opacity="0.6" stroke="#000" stroke-width="1.2"/>
<rect x="335.0" y="774.8" width="3.8" height="3.8" fill="#fff" fill-opacity="0.6" stroke="#000" stroke-width="1.2"/>
<rect x="347.2" y="772.5" width="3.8" height="3.8" fill="#fff" fill-opacity="0.6" stroke="#000" stroke-width="1.2"/>
<rect x="351.7" y="778.7" width="3.8" height="3.8" fill="#fff" fill-opacity="0.6" stroke="#000" stroke-width="1.2"/>
<rect x="357.8" y="774.2" width="3.8" height="3.8" fill="#fff" fill-opacity="0.6" stroke="#000" stroke-width="1.2"/>
<rect x="360.5" y="768.7" width="3.8" height="3.8" fill="#fff" fill-opacity="0.6" stroke="#000" stroke-width="1.2"/>
<rect x="367.8" y="768.1" width="3.8" height="3.8" fill="#fff" fill-opacity="0.6" stroke="#000" stroke-width="1.2"/>
<rect x="307.2" y="789.2" width="3.8" height="3.8" fill="#fff" fill-opacity="0.6" stroke="#000" stroke-width="1.2"/>
<rect x="323.9" y="795.9" width="3.8" height="3.8" fill="#fff" fill-opacity="0.6" stroke="#000" stroke-width="1.2"/>
<rect x="360.9" y="768.7" width="3.8" height="3.8" fill="#fff" fill-opacity="0.6" stroke="#000" stroke-width="1.2"/>
<rect x="358.1" y="774.2" width="3.8" height="3.8" fill="#fff" fill-opacity="0.6" stroke="#000" stroke-width="1.2"/>
<rect x="368.7" y="767.9" width="3.8" height="3.8" fill="#fff" fill-opacity="0.6" stroke="#000" stroke-width="1.2"/>
<rect x="373.7" y="769.8" width="3.8" height="3.8" fill="#fff" fill-opacity="0.6" stroke="#000" stroke-width="1.2"/>
<rect x="374.8" y="767.2" width="3.8" height="3.8" fill="#fff" fill-opacity="0.6" stroke="#000" stroke-width="1.2"/>
<rect x="377.0" y="759.0" width="3.8" height="3.8" fill="#fff" fill-opacity="0.6" stroke="#000" stroke-width="1.2"/>
<rect x="381.7" y="768.7" width="3.8" height="3.8" fill="#fff" fill-opacity="0.6" stroke="#000" stroke-width="1.2"/>
<rect x="379.4" y="774.2" width="3.8" height="3.8" fill="#fff" fill-opacity="0.6" stroke="#000" stroke-width="1.2"/>
<rect x="407.5" y="766.8" width="3.8" height="3.8" fill="#fff" fill-opacity="0.6" stroke="#000" stroke-width="1.2"/>
<rect x="427.5" y="758.1" width="3.8" height="3.8" fill="#fff" fill-opacity="0.6" stroke="#000" stroke-width="1.2"/>
<rect x="433.4" y="756.4" width="3.8" height="3.8" fill="#fff" fill-opacity="0.6" stroke="#000" stroke-width="1.2"/>
<rect x="448.6" y="751.5" width="3.8" height="3.8" fill="#fff" fill-opacity="0.6" stroke="#000" stroke-width="1.2"/>
<rect x="461.0" y="751.7" width="3.8" height="3.8" fill="#fff" fill-opacity="0.6" stroke="#000" stroke-width="1.2"/>
<rect x="471.7" y="740.5" width="3.8" height="3.8" fill="#fff" fill-opacity="0.6" stroke="#000" stroke-width="1.2"/>
<rect x="475.7" y="749.2" width="3.8" height="3.8" fill="#fff" fill-opacity="0.6" stroke="#000" stroke-width="1.2"/>
<rect x="303.1" y="781.1" width="3.8" height="3.8" fill="#fff" fill-opacity="0.6" stroke="#000" stroke-width="1.2"/>
<rect x="314.1" y="780.1" width="3.8" height="3.8" fill="#fff" fill-opacity="0.6" stroke="#000" stroke-width="1.2"/>
<circle cx="292.2" cy="787.8" r="2.3" fill="#000"/>
<circle cx="291.5" cy="789.6" r="2.3" fill="#000"/>
<circle cx="294.7" cy="787.0" r="2.3" fill="#000"/>
<circle cx="294.0" cy="789.6" r="2.3" fill="#000"/>
<circle cx="297.2" cy="787.8" r="2.3" fill="#000"/>
<circle cx="296.5" cy="789.6" r="2.3" fill="#000"/>
<circle cx="299.7" cy="787.0" r="2.3" fill="#000"/>
<circle cx="299.0" cy="789.6" r="2.3" fill="#000"/>
<circle cx="302.2" cy="787.8" r="2.3" fill="#000"/>
<circle cx="301.5" cy="789.6" r="2.3" fill="#000"/>
<circle cx="304.7" cy="787.0" r="2.3" fill="#000"/>
<circle cx="304.0" cy="789.6" r="2.3" fill="#000"/>
<circle cx="307.2" cy="787.8" r="2.3" fill="#000"/>
<circle cx="306.5" cy="789.6" r="2.3" fill="#000"/>
<circle cx="309.7" cy="787.0" r="2.3" fill="#000"/>
<circle cx="309.0" cy="789.6" r="2.3" fill="#000"/>
<circle cx="312.2" cy="787.8" r="2.3" fill="#000"/>
<circle cx="311.5" cy="789.6" r="2.3" fill="#000"/>
<circle cx="314.7" cy="787.0" r="2.3" fill="#000"/>
<circle cx="314.0" cy="789.6" r="2.3" fill="#000"/>
<circle cx="317.2" cy="787.8" r="2.3" fill="#000"/>
<circle cx="316.5" cy="789.6" r="2.3" fill="#000"/>
<circle cx="319.7" cy="787.0" r="2.3" fill="#000"/>
<circle cx="319.0" cy="789.6" r="2.3" fill="#000"/>
<circle cx="322.2" cy="787.8" r="2.3" fill="#000"/>
<circle cx="321.5" cy="789.6" r="2.3" fill="#000"/>
<circle cx="324.7" cy="787.0" r="2.3" fill="#000"/>
<circle cx="324.0" cy="789.6" r="2.3" fill="#000"/>
<circle cx="327.2" cy="787.8" r="2.3" fill="#000"/>
<circle cx="326.5" cy="789.6" r="2.3" fill="#000"/>
<circle cx="305.8" cy="792.8" r="2.3" fill="#000"/>
<circle cx="322.4" cy="801.1" r="2.3" fill="#000"/>
<circle cx="336.3" cy="785.0" r="2.3" fill="#000"/>
<circle cx="338.6" cy="793.9" r="2.3" fill="#000"/>
<circle cx="343.6" cy="788.3" r="2.3" fill="#000"/>
<circle cx="344.7" cy="785.6" r="2.3" fill="#000"/>
<circle cx="349.7" cy="786.7" r="2.3" fill="#000"/>
<circle cx="353.0" cy="788.3" r="2.3" fill="#000"/>
<circle cx="355.2" cy="780.6" r="2.3" fill="#000"/>
<circle cx="356.9" cy="793.3" r="2.3" fill="#000"/>
<circle cx="354.1" cy="798.9" r="2.3" fill="#000"/>
<circle cx="359.7" cy="783.9" r="2.3" fill="#000"/>
<circle cx="314.1" cy="786.7" r="2.3" fill="#000"/>
<circle cx="323.6" cy="787.8" r="2.3" fill="#000"/>
<circle cx="360.6" cy="784.4" r="2.3" fill="#000"/>
<circle cx="382.8" cy="790.6" r="2.3" fill="#000"/>
<circle cx="387.2" cy="794.7" r="2.3" fill="#000"/>
<circle cx="399.4" cy="787.6" r="2.3" fill="#000"/>
<circle cx="408.9" cy="787.6" r="2.3" fill="#000"/>
<circle cx="418.3" cy="788.0" r="2.3" fill="#000"/>
<circle cx="416.3" cy="792.2" r="2.3" fill="#000"/>
<circle cx="423.6" cy="795.3" r="2.3" fill="#000"/>
<rect x="530.5" y="796.4" width="3.8" height="3.8" fill="#fff" fill-opacity="0.6" stroke="#000" stroke-width="1.2"/>
<rect x="534.4" y="759.2" width="3.8" height="3.8" fill="#fff" fill-opacity="0.6" stroke="#000" stroke-width="1.2"/>
<rect x="534.4" y="769.2" width="3.8" height="3.8" fill="#fff" fill-opacity="0.6" stroke="#000" stroke-width="1.2"/>
<rect x="534.4" y="775.3" width="3.8" height="3.8" fill="#fff" fill-opacity="0.6" stroke="#000" stroke-width="1.2"/>
<rect x="538.4" y="758.1" width="3.8" height="3.8" fill="#fff" fill-opacity="0.6" stroke="#000" stroke-width="1.2"/>
<rect x="538.4" y="774.2" width="3.8" height="3.8" fill="#fff" fill-opacity="0.6" stroke="#000" stroke-width="1.2"/>
<rect x="538.4" y="777.0" width="3.8" height="3.8" fill="#fff" fill-opacity="0.6" stroke="#000" stroke-width="1.2"/>
<rect x="538.4" y="780.9" width="3.8" height="3.8" fill="#fff" fill-opacity="0.6" stroke="#000" stroke-width="1.2"/>
<rect x="546.2" y="740.0" width="3.8" height="3.8" fill="#fff" fill-opacity="0.6" stroke="#000" stroke-width="1.2"/>
<rect x="546.2" y="774.2" width="3.8" height="3.8" fill="#fff" fill-opacity="0.6" stroke="#000" stroke-width="1.2"/>
<rect x="546.2" y="779.8" width="3.8" height="3.8" fill="#fff" fill-opacity="0.6" stroke="#000" stroke-width="1.2"/>
<rect x="554.1" y="749.2" width="3.8" height="3.8" fill="#fff" fill-opacity="0.6" stroke="#000" stroke-width="1.2"/>
<rect x="554.1" y="768.7" width="3.8" height="3.8" fill="#fff" fill-opacity="0.6" stroke="#000" stroke-width="1.2"/>
<rect x="554.1" y="774.8" width="3.8" height="3.8" fill="#fff" fill-opacity="0.6" stroke="#000" stroke-width="1.2"/>
<rect x="554.1" y="781.1" width="3.8" height="3.8" fill="#fff" fill-opacity="0.6" stroke="#000" stroke-width="1.2"/>
<rect x="562.0" y="751.4" width="3.8" height="3.8" fill="#fff" fill-opacity="0.6" stroke="#000" stroke-width="1.2"/>
<rect x="562.0" y="767.5" width="3.8" height="3.8" fill="#fff" fill-opacity="0.6" stroke="#000" stroke-width="1.2"/>
<rect x="562.0" y="774.4" width="3.8" height="3.8" fill="#fff" fill-opacity="0.6" stroke="#000" stroke-width="1.2"/>
<rect x="562.0" y="780.3" width="3.8" height="3.8" fill="#fff" fill-opacity="0.6" stroke="#000" stroke-width="1.2"/>
<rect x="569.8" y="751.4" width="3.8" height="3.8" fill="#fff" fill-opacity="0.6" stroke="#000" stroke-width="1.2"/>
<rect x="569.8" y="767.8" width="3.8" height="3.8" fill="#fff" fill-opacity="0.6" stroke="#000" stroke-width="1.2"/>
<rect x="569.8" y="775.9" width="3.8" height="3.8" fill="#fff" fill-opacity="0.6" stroke="#000" stroke-width="1.2"/>
<rect x="569.8" y="779.5" width="3.8" height="3.8" fill="#fff" fill-opacity="0.6" stroke="#000" stroke-width="1.2"/>
<rect x="577.7" y="756.4" width="3.8" height="3.8" fill="#fff" fill-opacity="0.6" stroke="#000" stroke-width="1.2"/>
<rect x="577.7" y="768.9" width="3.8" height="3.8" fill="#fff" fill-opacity="0.6" stroke="#000" stroke-width="1.2"/>
<rect x="577.7" y="776.3" width="3.8" height="3.8" fill="#fff" fill-opacity="0.6" stroke="#000" stroke-width="1.2"/>
<rect x="577.7" y="780.3" width="3.8" height="3.8" fill="#fff" fill-opacity="0.6" stroke="#000" stroke-width="1.2"/>
<rect x="593.4" y="766.4" width="3.8" height="3.8" fill="#fff" fill-opacity="0.6" stroke="#000" stroke-width="1.2"/>
<rect x="593.4" y="772.0" width="3.8" height="3.8" fill="#fff" fill-opacity="0.6" stroke="#000" stroke-width="1.2"/>
<rect x="593.4" y="778.4" width="3.8" height="3.8" fill="#fff" fill-opacity="0.6" stroke="#000" stroke-width="1.2"/>
<rect x="593.4" y="780.9" width="3.8" height="3.8" fill="#fff" fill-opacity="0.6" stroke="#000" stroke-width="1.2"/>
<rect x="624.9" y="769.4" width="3.8" height="3.8" fill="#fff" fill-opacity="0.6" stroke="#000" stroke-width="1.2"/>
<rect x="624.9" y="774.6" width="3.8" height="3.8" fill="#fff" fill-opacity="0.6" stroke="#000" stroke-width="1.2"/>
<rect x="624.9" y="778.7" width="3.8" height="3.8" fill="#fff" fill-opacity="0.6" stroke="#000" stroke-width="1.2"/>
<rect x="656.3" y="777.8" width="3.8" height="3.8" fill="#fff" fill-opacity="0.6" stroke="#000" stroke-width="1.2"/>
<rect x="656.3" y="780.6" width="3.8" height="3.8" fill="#fff" fill-opacity="0.6" stroke="#000" stroke-width="1.2"/>
<rect x="719.3" y="781.6" width="3.8" height="3.8" fill="#fff" fill-opacity="0.6" stroke="#000" stroke-width="1.2"/>
<rect x="529.9" y="785.5" width="5.0" height="5.0" fill="#222"/>
<rect x="529.9" y="788.5" width="5.0" height="5.0" fill="#222"/>
<rect x="529.9" y="791.5" width="5.0" height="5.0" fill="#222"/>
<circle cx="532.4" cy="787.0" r="2.3" fill="#000"/>
<circle cx="532.4" cy="790.0" r="2.3" fill="#000"/>
<circle cx="532.4" cy="800.5" r="2.3" fill="#000"/>
<circle cx="536.3" cy="781.7" r="2.3" fill="#000"/>
<circle cx="536.3" cy="784.4" r="2.3" fill="#000"/>
<circle cx="536.3" cy="786.0" r="2.3" fill="#000"/>
<circle cx="540.3" cy="786.7" r="2.3" fill="#000"/>
<circle cx="540.3" cy="793.9" r="2.3" fill="#000"/>
<circle cx="548.1" cy="787.4" r="2.3" fill="#000"/>
<circle cx="548.1" cy="799.0" r="2.3" fill="#000"/>
<circle cx="556.0" cy="787.5" r="2.3" fill="#000"/>
<circle cx="556.0" cy="793.0" r="2.3" fill="#000"/>
<circle cx="556.0" cy="795.6" r="2.3" fill="#000"/>
<circle cx="563.9" cy="786.4" r="2.3" fill="#000"/>
<circle cx="563.9" cy="789.4" r="2.3" fill="#000"/>
<circle cx="563.9" cy="792.2" r="2.3" fill="#000"/>
<circle cx="571.7" cy="786.7" r="2.3" fill="#000"/>
<circle cx="579.6" cy="786.1" r="2.3" fill="#000"/>
<circle cx="579.6" cy="788.1" r="2.3" fill="#000"/>
<circle cx="595.3" cy="784.4" r="2.3" fill="#000"/>
<circle cx="595.3" cy="786.7" r="2.3" fill="#000"/>
<circle cx="595.3" cy="790.2" r="2.3" fill="#000"/>
<circle cx="626.8" cy="784.0" r="2.3" fill="#000"/>
<circle cx="626.8" cy="786.0" r="2.3" fill="#000"/>
<circle cx="658.2" cy="785.0" r="2.3" fill="#000"/>
<circle cx="658.2" cy="787.5" r="2.3" fill="#000"/>
<circle cx="721.2" cy="785.5" r="2.3" fill="#000"/>
<circle cx="721.2" cy="788.0" r="2.3" fill="#000"/>
<text x="42.30" y="42.40" font-size="15.8" font-weight="bold" textLength="19.2" lengthAdjust="spacingAndGlyphs" fill="#000">(a)</text>
<text x="286.40" y="39.60" font-size="15.8" font-weight="bold" textLength="20.4" lengthAdjust="spacingAndGlyphs" fill="#000">(b)</text>
<text x="536.20" y="43.50" font-size="15.8" font-weight="bold" textLength="18.599999999999998" lengthAdjust="spacingAndGlyphs" fill="#000">(c)</text>
<text x="41.70" y="249.60" font-size="15.8" font-weight="bold" textLength="19.799999999999997" lengthAdjust="spacingAndGlyphs" fill="#000">(d)</text>
<text x="287.30" y="249.60" font-size="15.8" font-weight="bold" textLength="18.7" lengthAdjust="spacingAndGlyphs" fill="#000">(e)</text>
<text x="529.30" y="250.10" font-size="15.8" font-weight="bold" textLength="16.099999999999998" lengthAdjust="spacingAndGlyphs" fill="#000">(f)</text>
<text x="45.60" y="492.40" font-size="15.8" font-weight="bold" textLength="19.2" lengthAdjust="spacingAndGlyphs" fill="#000">(g)</text>
<text x="292.30" y="494.60" font-size="15.8" font-weight="bold" textLength="20.299999999999997" lengthAdjust="spacingAndGlyphs" fill="#000">(h)</text>
<text x="535.10" y="493.50" font-size="15.8" font-weight="bold" textLength="14.700000000000001" lengthAdjust="spacingAndGlyphs" fill="#000">(i)</text>
<text x="50.60" y="734.60" font-size="15.8" font-weight="bold" textLength="14.200000000000001" lengthAdjust="spacingAndGlyphs" fill="#000">(j)</text>
<text x="292.30" y="733.50" font-size="15.8" font-weight="bold" textLength="19.2" lengthAdjust="spacingAndGlyphs" fill="#000">(k)</text>
<text x="533.90" y="733.50" font-size="15.8" font-weight="bold" textLength="14.8" lengthAdjust="spacingAndGlyphs" fill="#000">(l)</text>
<text x="286.70" y="9.60" font-size="12.2" font-style="italic" textLength="160.5" lengthAdjust="spacingAndGlyphs" fill="#000">iv dosing in healthy adults</text>
<text x="286.10" y="218.50" font-size="12.2" font-style="italic" textLength="175.9" lengthAdjust="spacingAndGlyphs" fill="#000">oral dosing in healthy adults</text>
<text x="172.40" y="447.70" font-size="12.2" font-style="italic" textLength="388.5" lengthAdjust="spacingAndGlyphs" fill="#000">oral dosing in heart failure without organ blood flow reductions</text>
<text x="184.20" y="689.00" font-size="12.2" font-style="italic" textLength="367.6" lengthAdjust="spacingAndGlyphs" fill="#000">oral dosing in heart failure with organ blood flow reductions</text>
<text x="59.20" y="187.80" font-size="11.6" textLength="157.7" lengthAdjust="spacingAndGlyphs" fill="#000">Observed concentration (µg/L)</text>
<text x="318.60" y="188.30" font-size="11.6" textLength="155.5" lengthAdjust="spacingAndGlyphs" fill="#000">Predicted concentration (µg/L)</text>
<text x="614.90" y="187.60" font-size="11.6" textLength="41.2" lengthAdjust="spacingAndGlyphs" fill="#000">Time (h)</text>
<text x="62.00" y="397.20" font-size="11.6" textLength="158.39999999999998" lengthAdjust="spacingAndGlyphs" fill="#000">Observed concentration ( µg/L)</text>
<text x="316.30" y="396.70" font-size="11.6" textLength="156.3" lengthAdjust="spacingAndGlyphs" fill="#000">Predicted concentration ( µg/L)</text>
<text x="611.00" y="398.00" font-size="11.6" textLength="40.59999999999998" lengthAdjust="spacingAndGlyphs" fill="#000">Time (h)</text>
<text x="61.70" y="641.30" font-size="11.6" textLength="158.7" lengthAdjust="spacingAndGlyphs" fill="#000">Observed concentration ( µg/L)</text>
<text x="322.30" y="643.30" font-size="11.6" textLength="156.0" lengthAdjust="spacingAndGlyphs" fill="#000">Predicted concentration ( µg/L)</text>
<text x="615.40" y="644.70" font-size="11.6" textLength="37.300000000000026" lengthAdjust="spacingAndGlyphs" fill="#000">Time (h)</text>
<text x="73.50" y="881.70" font-size="11.6" textLength="157.09999999999997" lengthAdjust="spacingAndGlyphs" fill="#000">Observed concentration ( µg/L)</text>
<text x="318.70" y="883.70" font-size="11.6" textLength="156.8" lengthAdjust="spacingAndGlyphs" fill="#000">Predicted concentration ( µg/L)</text>
<text x="614.30" y="883.10" font-size="11.6" textLength="41.800000000000026" lengthAdjust="spacingAndGlyphs" fill="#000">Time (h)</text>
<text x="12.00" y="169.80" font-size="11.6" textLength="155.6" lengthAdjust="spacingAndGlyphs" transform="rotate(-90 12.0 169.79999999999998)" fill="#000">Predicted concentration (µg/L)</text>
<text x="262.00" y="134.00" font-size="11.6" textLength="84.10000000000001" lengthAdjust="spacingAndGlyphs" transform="rotate(-90 262.0 134.0)" fill="#000">Residuals (µg/L)</text>
<text x="511.00" y="135.70" font-size="11.6" textLength="82.4" lengthAdjust="spacingAndGlyphs" transform="rotate(-90 511.0 135.7)" fill="#000">Residuals ( µg/L)</text>
<text x="9.40" y="380.00" font-size="11.6" textLength="159.1" lengthAdjust="spacingAndGlyphs" transform="rotate(-90 9.4 380.0)" fill="#000">Predicted concentration ( µg/L)</text>
<text x="264.40" y="344.10" font-size="11.6" textLength="84.89999999999999" lengthAdjust="spacingAndGlyphs" transform="rotate(-90 264.4 344.09999999999997)" fill="#000">Residuals (µg/L)</text>
<text x="510.00" y="345.70" font-size="11.6" textLength="82.39999999999999" lengthAdjust="spacingAndGlyphs" transform="rotate(-90 510.0 345.7)" fill="#000">Residuals ( µg/L)</text>
<text x="10.10" y="624.50" font-size="11.6" textLength="156.79999999999995" lengthAdjust="spacingAndGlyphs" transform="rotate(-90 10.1 624.5)" fill="#000">Predicted concentration ( µg/L)</text>
<text x="264.40" y="587.40" font-size="11.6" textLength="84.10000000000004" lengthAdjust="spacingAndGlyphs" transform="rotate(-90 264.4 587.4000000000001)" fill="#000">Residuals (µg/L)</text>
<text x="511.60" y="587.40" font-size="11.6" textLength="84.90000000000005" lengthAdjust="spacingAndGlyphs" transform="rotate(-90 511.6 587.4000000000001)" fill="#000">Residuals (µg/L)</text>
<text x="10.10" y="863.60" font-size="11.6" textLength="156.8" lengthAdjust="spacingAndGlyphs" transform="rotate(-90 10.1 863.6)" fill="#000">Predicted concentration ( µg/L)</text>
<text x="262.60" y="829.90" font-size="11.6" textLength="84.90000000000005" lengthAdjust="spacingAndGlyphs" transform="rotate(-90 262.6 829.9000000000001)" fill="#000">Residuals (µg/L)</text>
<text x="512.00" y="829.10" font-size="11.6" textLength="84.89999999999993" lengthAdjust="spacingAndGlyphs" transform="rotate(-90 512.0 829.1)" fill="#000">Residuals ( µg/L)</text>
</svg></body></html>
